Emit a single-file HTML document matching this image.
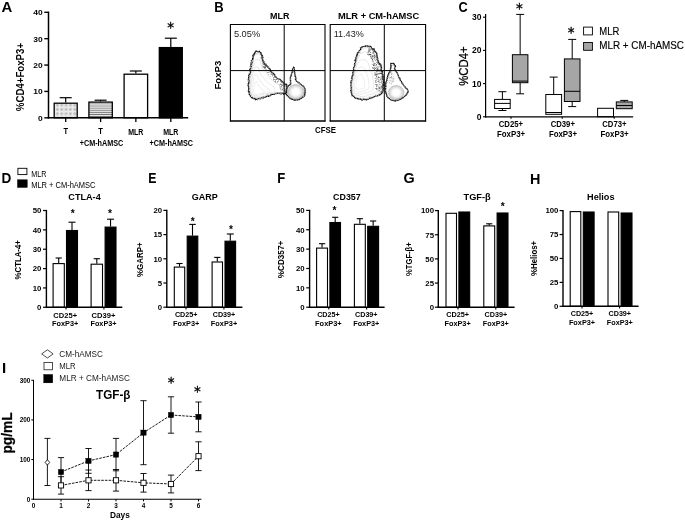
<!DOCTYPE html>
<html lang="en"><head><meta charset="utf-8"><title>Figure</title>
<style>
html,body{margin:0;padding:0;background:#fff;}
body{width:685px;height:522px;overflow:hidden;}
svg{display:block;filter:blur(0.38px);font-family:'Liberation Sans', Arial, sans-serif;}
</style></head><body>
<svg width="685" height="522" viewBox="0 0 685 522">
<rect width="685" height="522" fill="#fff"/>
<g id="pA">
<text x="1.50" y="12.40" font-size="15.2" font-weight="bold" textLength="10.80" lengthAdjust="spacingAndGlyphs">A</text>
<defs><pattern id="dots" width="1.3" height="1.3" patternUnits="userSpaceOnUse"><rect width="1.3" height="1.3" fill="#ececec"/><rect width="0.65" height="0.65" fill="#a8a8a8"/></pattern><pattern id="hl" width="4" height="2.1" patternUnits="userSpaceOnUse"><rect width="4" height="2.1" fill="#f0f0f0"/><rect width="4" height="0.8" y="0.6" fill="#6a6a6a"/></pattern></defs>
<line x1="65.70" y1="97.70" x2="65.70" y2="102.60" stroke="#000" stroke-width="1.2"/>
<line x1="59.70" y1="97.70" x2="71.70" y2="97.70" stroke="#000" stroke-width="1.2"/>
<rect x="54.20" y="103.20" width="23.00" height="14.60" fill="url(#dots)" stroke="#000" stroke-width="1.3"/>
<line x1="65.70" y1="117.80" x2="65.70" y2="122.10" stroke="#000" stroke-width="1.3"/>
<line x1="100.60" y1="100.20" x2="100.60" y2="101.50" stroke="#000" stroke-width="1.2"/>
<line x1="94.60" y1="100.20" x2="106.60" y2="100.20" stroke="#000" stroke-width="1.2"/>
<rect x="88.90" y="102.10" width="23.40" height="15.70" fill="url(#hl)" stroke="#000" stroke-width="1.3"/>
<line x1="100.60" y1="117.80" x2="100.60" y2="122.10" stroke="#000" stroke-width="1.3"/>
<line x1="135.85" y1="71.00" x2="135.85" y2="73.60" stroke="#000" stroke-width="1.2"/>
<line x1="129.85" y1="71.00" x2="141.85" y2="71.00" stroke="#000" stroke-width="1.2"/>
<rect x="124.10" y="74.20" width="23.50" height="43.60" fill="#fff" stroke="#000" stroke-width="1.3"/>
<line x1="135.85" y1="117.80" x2="135.85" y2="122.10" stroke="#000" stroke-width="1.3"/>
<line x1="170.80" y1="38.20" x2="170.80" y2="47.00" stroke="#000" stroke-width="1.2"/>
<line x1="164.80" y1="38.20" x2="176.80" y2="38.20" stroke="#000" stroke-width="1.2"/>
<rect x="159.30" y="47.60" width="23.00" height="70.20" fill="#000" stroke="#000" stroke-width="1.3"/>
<line x1="170.80" y1="117.80" x2="170.80" y2="122.10" stroke="#000" stroke-width="1.3"/>
<line x1="48.50" y1="11.60" x2="48.50" y2="118.55" stroke="#000" stroke-width="1.5"/>
<line x1="47.75" y1="117.80" x2="188.20" y2="117.80" stroke="#000" stroke-width="1.5"/>
<line x1="44.30" y1="12.30" x2="48.50" y2="12.30" stroke="#000" stroke-width="1.4"/>
<text x="42.70" y="15.15" font-size="8" font-weight="bold" text-anchor="end" textLength="9.40" lengthAdjust="spacingAndGlyphs">40</text>
<line x1="44.30" y1="38.67" x2="48.50" y2="38.67" stroke="#000" stroke-width="1.4"/>
<text x="42.70" y="41.52" font-size="8" font-weight="bold" text-anchor="end" textLength="9.40" lengthAdjust="spacingAndGlyphs">30</text>
<line x1="44.30" y1="65.05" x2="48.50" y2="65.05" stroke="#000" stroke-width="1.4"/>
<text x="42.70" y="67.90" font-size="8" font-weight="bold" text-anchor="end" textLength="9.40" lengthAdjust="spacingAndGlyphs">20</text>
<line x1="44.30" y1="91.42" x2="48.50" y2="91.42" stroke="#000" stroke-width="1.4"/>
<text x="42.70" y="94.27" font-size="8" font-weight="bold" text-anchor="end" textLength="9.40" lengthAdjust="spacingAndGlyphs">10</text>
<line x1="44.30" y1="117.80" x2="48.50" y2="117.80" stroke="#000" stroke-width="1.4"/>
<text x="42.70" y="120.65" font-size="8" font-weight="bold" text-anchor="end" textLength="4.70" lengthAdjust="spacingAndGlyphs">0</text>
<text x="24.00" y="111.20" font-size="10.7" font-weight="bold" textLength="68.30" lengthAdjust="spacingAndGlyphs" transform="rotate(-90 24.00 111.20)">%CD4+FoxP3+</text>
<text x="65.70" y="134.30" font-size="8.5" font-weight="bold" text-anchor="middle" textLength="4.60" lengthAdjust="spacingAndGlyphs">T</text>
<text x="100.60" y="134.30" font-size="8.5" font-weight="bold" text-anchor="middle" textLength="4.60" lengthAdjust="spacingAndGlyphs">T</text>
<text x="135.80" y="134.50" font-size="8.5" font-weight="bold" text-anchor="middle" textLength="15.20" lengthAdjust="spacingAndGlyphs">MLR</text>
<text x="170.80" y="134.50" font-size="8.5" font-weight="bold" text-anchor="middle" textLength="15.20" lengthAdjust="spacingAndGlyphs">MLR</text>
<text x="101.50" y="145.80" font-size="8.5" font-weight="bold" text-anchor="middle" textLength="43.60" lengthAdjust="spacingAndGlyphs">+CM-hAMSC</text>
<text x="171.30" y="145.80" font-size="8.5" font-weight="bold" text-anchor="middle" textLength="43.60" lengthAdjust="spacingAndGlyphs">+CM-hAMSC</text>
<text x="170.60" y="31.84" font-size="13.6" text-anchor="middle" font-family="'DejaVu Sans', 'Liberation Sans', sans-serif" stroke="#000" stroke-width="0.3">*</text>
</g>
<g id="pB">
<text x="214.20" y="12.40" font-size="15.2" font-weight="bold" textLength="9.40" lengthAdjust="spacingAndGlyphs">B</text>
<text x="279.80" y="18.90" font-size="8.9" font-weight="bold" text-anchor="middle" textLength="19.40" lengthAdjust="spacingAndGlyphs">MLR</text>
<text x="378.60" y="18.90" font-size="9.1" font-weight="bold" text-anchor="middle" textLength="81.40" lengthAdjust="spacingAndGlyphs">MLR + CM-hAMSC</text>
<text x="220.60" y="89.50" font-size="9.6" font-weight="bold" textLength="28.80" lengthAdjust="spacingAndGlyphs" transform="rotate(-90 220.60 89.50)">FoxP3</text>
<text x="325.50" y="132.80" font-size="8.6" font-weight="bold" text-anchor="middle" textLength="21.00" lengthAdjust="spacingAndGlyphs">CFSE</text>
<path d="M255.7 51.3 L256.9 51.1 L257.5 51.4 L257.6 51.6 L258.4 51.6 L259.3 51.3 L260.4 52.7 L260.5 52.6 L261.6 54.6 L261.8 55.1 L262.6 55.9 L262.9 57.7 L262.4 59.0 L263.2 61.6 L263.6 62.7 L265.0 63.6 L265.7 64.1 L265.9 65.1 L267.7 66.3 L268.1 67.5 L269.2 68.3 L270.6 70.2 L270.7 71.3 L272.1 73.0 L273.4 73.4 L274.7 74.4 L275.0 76.4 L275.8 77.0 L276.8 78.2 L279.0 79.0 L280.3 79.5 L281.1 80.7 L282.0 81.3 L283.4 82.7 L283.9 83.0 L284.1 83.7 L285.7 84.6 L286.6 84.1 L286.5 85.5 L286.3 86.4 L286.7 87.4 L286.5 89.2 L286.6 89.4 L286.7 91.7 L286.0 92.2 L286.1 93.6 L285.9 93.9 L284.3 93.5 L283.5 94.2 L283.2 93.2 L280.7 93.1 L279.5 93.4 L278.5 93.1 L276.3 93.4 L275.3 93.8 L274.7 94.2 L272.6 94.5 L271.3 94.2 L270.1 95.8 L268.6 96.4 L266.4 96.4 L264.5 97.4 L263.0 97.1 L261.7 97.8 L260.4 98.0 L258.5 98.5 L257.1 99.0 L255.6 99.8 L255.1 98.6 L253.3 98.6 L252.3 97.7 L251.9 98.1 L250.6 96.4 L249.3 94.6 L249.2 93.4 L249.4 91.6 L248.2 91.8 L248.7 89.8 L248.6 88.7 L248.5 89.1 L249.0 87.6 L248.1 86.1 L248.0 85.6 L248.5 84.6 L248.2 82.7 L249.0 82.6 L249.1 81.2 L249.2 80.0 L248.5 78.5 L248.8 76.6 L248.6 75.8 L249.1 75.2 L250.2 73.6 L250.4 73.2 L250.6 71.1 L249.8 69.8 L250.0 68.5 L250.8 68.3 L251.3 66.6 L251.3 65.9 L250.7 64.6 L252.1 63.6 L252.1 62.1 L251.5 61.5 L252.0 60.5 L253.1 58.9 L252.5 58.7 L253.2 56.8 L252.8 55.2 L254.3 54.9 L253.7 54.0 L255.3 53.0 L255.0 52.3Z" fill="#fff" stroke="#000" stroke-width="1.15" stroke-dasharray="1.3 0.45" stroke-linejoin="round"/>
<path d="M255.3 51.0 L257.5 51.9 L257.5 52.3 L258.1 52.2 L259.6 51.2 L259.4 51.5 L260.1 52.4 L260.6 52.9 L260.8 54.7 L261.4 55.2 L262.1 57.3 L262.2 58.7 L262.9 59.6 L263.5 60.3 L264.0 62.0 L264.0 64.3 L265.1 64.7 L266.9 65.6 L267.1 66.4 L268.4 67.9 L268.6 68.7 L269.7 69.5 L271.6 71.2 L272.2 72.9 L273.8 73.6 L274.3 74.9 L275.2 76.4 L276.2 77.1 L277.4 78.8 L278.9 79.5 L280.5 79.3 L281.0 81.3 L282.5 80.7 L282.3 82.0 L283.2 82.3 L284.0 83.7 L286.0 84.6 L285.6 84.8 L287.0 84.7 L287.7 87.3 L286.6 88.7 L286.9 88.8 L287.9 90.3 L286.3 91.1 L286.6 92.0 L285.5 92.7 L285.8 92.5 L284.7 93.5 L282.8 93.4 L282.7 93.7 L280.4 94.4 L280.3 94.3 L277.7 93.0 L276.2 94.0 L275.1 93.0 L273.9 94.7 L273.1 93.9 L270.4 95.5 L269.7 95.8 L267.3 95.2 L266.9 96.5 L264.3 97.9 L263.8 98.3 L261.4 98.9 L259.9 99.3 L259.1 98.7 L257.7 100.0 L255.8 98.6 L254.9 98.7 L253.0 98.2 L251.7 97.7 L251.1 97.1 L251.1 96.1 L249.9 94.6 L249.1 92.9 L248.5 91.2 L249.2 91.3 L248.1 90.3 L249.3 88.7 L249.0 88.3 L248.4 87.9 L248.2 86.3 L248.8 86.1 L248.2 84.7 L248.8 83.3 L248.4 81.7 L247.9 80.1 L248.0 80.1 L248.5 77.9 L248.3 77.9 L249.9 76.4 L249.0 74.4 L249.2 73.6 L249.2 72.4 L249.6 72.1 L251.0 70.2 L250.0 69.8 L250.3 67.5 L250.0 66.4 L251.0 65.5 L250.8 64.4 L250.7 62.8 L251.0 62.0 L251.2 60.3 L251.9 59.6 L252.6 59.1 L253.1 58.4 L253.2 57.9 L253.1 55.4 L254.6 53.9 L254.6 53.8 L253.9 53.4 L255.9 52.4Z" fill="none" stroke="#222" stroke-width="0.7" stroke-dasharray="2.2 1.0" stroke-linejoin="round"/>
<path d="M256.7 54.0 L256.7 53.5 L257.8 53.8 L258.9 53.8 L259.4 54.0 L260.3 53.9 L260.4 53.5 L260.8 54.6 L261.1 56.1 L261.9 57.0 L262.2 58.3 L262.5 58.8 L263.3 61.2 L263.5 62.5 L264.3 63.2 L265.1 64.6 L265.0 65.5 L266.7 66.1 L267.5 67.9 L268.1 68.1 L268.9 69.6 L270.1 70.8 L270.8 71.3 L271.1 72.7 L272.8 74.0 L273.5 74.7 L273.9 76.1 L275.7 77.6 L276.8 78.0 L277.7 79.0 L278.8 79.4 L280.3 80.3 L281.4 81.9 L281.2 82.0 L283.1 83.3 L283.4 83.0 L283.9 84.4 L284.5 84.4 L284.9 85.1 L286.2 85.7 L286.1 87.6 L286.2 89.5 L285.2 91.1 L285.2 91.1 L284.1 92.4 L284.1 92.5 L283.0 92.7 L282.3 93.4 L280.8 93.3 L280.6 92.4 L279.4 93.0 L278.0 92.5 L276.1 92.7 L275.4 93.1 L273.3 93.1 L271.8 93.0 L270.1 94.4 L269.0 95.1 L267.5 94.9 L266.4 95.3 L264.9 96.8 L264.1 97.2 L262.4 97.8 L261.4 97.7 L259.7 97.4 L258.3 98.1 L257.0 98.4 L255.2 97.6 L254.8 97.3 L253.1 97.1 L252.0 96.8 L252.0 95.3 L250.9 94.2 L250.3 92.9 L249.5 91.1 L249.2 90.3 L249.5 88.6 L249.9 88.6 L249.3 86.6 L249.0 85.6 L249.2 84.6 L249.1 83.7 L249.5 83.5 L249.8 81.8 L249.5 80.9 L249.5 79.6 L249.3 78.4 L250.5 77.1 L250.1 76.6 L250.7 75.0 L250.2 73.9 L250.5 73.0 L251.4 72.4 L251.5 70.3 L250.7 70.0 L251.9 68.6 L251.7 66.9 L251.7 67.0 L252.5 65.8 L252.8 64.1 L252.0 62.9 L252.7 62.6 L253.4 61.6 L253.3 60.7 L253.5 58.8 L253.4 57.6 L254.0 56.6 L254.9 55.0 L254.8 54.2 L255.9 54.2Z" fill="none" stroke="#888" stroke-width="0.55" stroke-dasharray="0.9 0.7"/>
<path d="M255.8 59.6 L256.7 59.8 L257.2 59.5 L258.0 59.3 L258.4 59.7 L259.5 60.0 L260.0 60.2 L260.0 60.6 L260.8 61.7 L260.5 62.2 L260.9 63.8 L261.1 64.6 L261.7 66.3 L261.9 67.0 L262.5 68.4 L263.3 69.2 L264.0 70.3 L264.5 70.6 L265.6 71.4 L266.2 72.1 L266.5 73.5 L267.3 74.6 L268.2 75.1 L268.7 76.3 L269.8 77.7 L270.3 78.2 L271.2 79.5 L272.0 79.7 L272.9 80.7 L274.5 81.8 L275.3 82.5 L276.3 82.7 L276.6 83.8 L277.8 83.7 L278.5 84.5 L279.0 85.0 L279.5 85.2 L280.1 85.9 L281.0 86.4 L281.2 87.4 L280.9 89.0 L281.2 90.2 L280.5 91.4 L280.4 92.5 L279.9 92.7 L279.9 92.8 L278.9 93.5 L278.4 93.0 L277.0 93.0 L276.5 93.0 L275.3 93.4 L273.9 93.0 L273.2 93.3 L271.5 93.5 L270.4 93.4 L269.0 94.0 L268.4 94.3 L267.3 94.4 L265.6 95.2 L264.9 96.0 L263.3 96.0 L262.1 96.6 L261.3 96.8 L260.0 97.5 L258.8 97.8 L257.5 97.7 L256.2 97.7 L255.4 97.4 L254.0 97.6 L253.1 96.7 L252.1 96.4 L251.7 95.9 L251.5 94.9 L250.6 93.1 L250.2 92.1 L250.4 90.6 L249.9 89.1 L250.1 87.6 L250.2 86.0 L250.3 83.7 L250.5 82.9 L250.3 82.0 L250.6 80.9 L250.4 80.0 L250.4 79.5 L250.9 78.2 L250.9 77.7 L251.1 76.2 L251.5 75.6 L251.8 74.2 L251.6 73.8 L252.0 72.9 L251.7 71.5 L251.9 70.6 L252.7 69.9 L252.8 68.9 L253.1 67.2 L253.1 65.8 L253.9 63.9 L254.0 63.0 L254.1 61.9 L254.4 61.0 L254.9 60.7 L255.6 60.0Z" fill="none" stroke="#c4c4c4" stroke-width="0.45"/>
<path d="M255.2 67.2 L256.1 67.0 L256.3 66.9 L257.1 67.2 L257.1 66.9 L257.9 67.3 L258.5 67.3 L258.4 68.2 L258.8 68.5 L258.9 69.7 L259.1 70.3 L259.4 71.1 L260.0 72.4 L260.1 72.9 L260.7 73.7 L260.7 75.0 L261.5 75.5 L262.0 76.0 L262.6 76.1 L262.9 77.0 L263.9 78.0 L264.0 78.6 L264.8 79.3 L265.2 79.9 L266.1 81.2 L266.5 81.6 L267.6 82.6 L267.9 82.7 L269.1 83.9 L269.5 83.8 L270.6 84.5 L271.2 85.2 L271.8 85.3 L272.5 85.9 L272.8 86.7 L273.6 86.6 L273.6 87.1 L274.3 87.4 L274.3 87.9 L274.9 89.0 L274.5 89.7 L275.0 90.5 L274.9 91.4 L274.5 92.4 L274.3 92.7 L273.7 93.1 L273.2 93.3 L272.7 93.2 L271.6 93.3 L271.1 93.0 L270.5 93.3 L269.4 92.9 L268.5 92.9 L267.4 93.2 L266.4 93.4 L265.8 93.3 L265.0 93.6 L264.1 94.5 L263.0 94.4 L262.1 95.0 L261.5 95.1 L260.5 96.1 L259.5 96.3 L258.2 96.7 L257.5 96.8 L256.9 96.4 L255.9 97.0 L254.5 96.5 L254.3 96.2 L253.6 95.9 L252.9 95.3 L252.2 95.2 L251.6 94.0 L251.4 93.1 L250.9 92.0 L250.8 91.5 L251.0 90.2 L250.6 88.9 L250.6 87.4 L251.0 85.9 L251.3 84.6 L251.3 83.3 L251.2 81.9 L251.8 80.0 L252.1 78.5 L252.6 77.2 L252.4 75.9 L252.7 74.1 L253.2 72.7 L253.5 71.6 L253.7 71.0 L253.9 69.8 L254.0 68.6 L254.1 68.1 L254.8 67.8 L255.1 67.8Z" fill="none" stroke="#cfcfcf" stroke-width="0.45"/>
<path d="M255.2 74.5 L255.9 74.3 L255.8 74.5 L256.2 74.5 L256.6 74.7 L257.2 74.5 L257.6 74.9 L257.5 75.5 L257.7 75.4 L257.7 76.3 L258.4 77.0 L258.2 77.3 L258.2 78.2 L258.8 78.7 L259.1 79.4 L259.7 80.1 L259.5 80.7 L259.8 80.8 L260.5 80.9 L260.6 81.8 L261.0 82.1 L262.0 82.4 L261.9 83.3 L262.5 83.9 L263.2 84.1 L263.3 84.7 L263.6 85.6 L264.6 86.0 L264.6 86.5 L265.6 86.6 L266.1 87.0 L266.2 87.1 L266.7 87.4 L267.2 88.2 L267.9 88.6 L268.3 88.4 L268.5 88.8 L269.0 89.1 L268.8 89.5 L269.4 89.8 L269.4 90.3 L269.0 91.2 L269.2 92.4 L269.1 92.4 L269.0 92.7 L268.2 93.3 L268.2 93.2 L267.8 93.5 L267.1 93.4 L266.7 93.3 L265.9 93.2 L265.4 92.9 L264.5 93.2 L263.8 93.4 L263.2 92.9 L262.5 93.7 L262.0 93.4 L261.1 93.6 L260.9 94.3 L260.3 94.6 L259.2 94.7 L258.7 95.1 L258.4 95.4 L257.2 95.6 L257.2 95.8 L255.9 95.4 L255.3 95.3 L255.2 95.8 L254.5 95.6 L254.0 95.0 L253.2 94.5 L253.3 94.1 L252.7 93.7 L252.2 93.0 L252.2 92.6 L252.2 91.5 L252.5 90.8 L252.4 90.0 L251.8 88.9 L252.2 88.2 L252.2 87.1 L252.4 85.7 L252.8 84.6 L253.0 83.6 L252.6 82.6 L253.3 82.1 L253.0 80.7 L253.5 80.0 L253.5 78.8 L253.8 78.1 L253.9 77.4 L254.1 76.2 L254.6 75.9 L254.4 75.6 L254.6 75.3 L255.3 75.1Z" fill="none" stroke="#d6d6d6" stroke-width="0.45"/>
<path d="M255.9 81.8 L256.0 81.7 L256.5 81.5 L256.7 81.5 L256.5 81.6 L257.2 81.9 L257.0 82.2 L257.0 82.1 L257.3 82.6 L257.5 82.9 L257.3 83.0 L257.3 83.8 L257.8 84.1 L257.6 84.3 L258.2 84.8 L258.0 85.0 L258.7 85.2 L258.5 85.4 L259.1 86.0 L258.9 85.8 L259.2 86.3 L259.7 86.5 L259.8 86.9 L260.5 87.6 L260.2 88.1 L260.4 88.0 L261.3 88.6 L261.5 88.6 L261.4 89.0 L261.7 89.0 L262.2 89.1 L262.5 89.8 L263.0 89.8 L263.2 90.0 L263.1 90.3 L263.5 90.5 L264.1 90.5 L264.0 90.8 L264.1 90.7 L264.4 91.5 L264.4 91.7 L264.5 92.2 L264.3 92.5 L264.0 92.9 L263.7 92.9 L264.0 93.2 L263.7 93.0 L263.3 93.1 L263.1 93.1 L262.8 93.4 L262.1 93.2 L262.1 93.0 L261.5 93.4 L260.8 93.2 L260.5 93.4 L260.6 93.3 L259.6 93.5 L259.5 93.8 L259.1 93.9 L258.9 94.0 L258.2 94.4 L257.7 94.4 L257.4 94.6 L256.8 94.8 L256.6 94.3 L256.1 94.6 L255.6 94.6 L255.5 94.8 L255.1 94.4 L254.7 94.5 L254.9 94.2 L254.2 94.1 L254.1 93.4 L253.8 93.4 L254.2 92.8 L253.8 92.3 L253.6 92.0 L253.7 91.3 L254.0 90.8 L253.8 89.8 L253.9 89.1 L254.2 88.6 L254.3 87.9 L254.1 87.3 L254.2 86.6 L254.0 86.3 L254.4 85.4 L254.5 84.9 L254.7 84.4 L255.0 83.7 L255.3 83.6 L254.8 83.1 L255.5 82.8 L255.1 82.5 L255.6 81.8 L255.3 82.3Z" fill="none" stroke="#dedede" stroke-width="0.45"/>
<path d="M290.6 81.2 L290.1 79.7 L290.2 78.9 L290.5 77.0 L291.3 76.2 L291.0 74.9 L291.8 73.5 L292.2 72.2 L292.6 70.8 L292.4 69.4 L293.0 68.4 L293.2 68.0 L293.6 67.1 L293.6 67.1 L294.1 67.4 L294.3 68.2 L294.4 69.4 L294.5 71.0 L294.1 72.2 L294.7 73.3 L295.0 74.9 L295.0 75.9 L295.7 76.8 L295.7 78.5 L295.4 79.4 L296.3 80.6 L296.5 81.5 L297.3 81.8 L298.5 82.1 L299.3 83.2 L299.9 84.0 L300.7 84.2 L301.6 85.0 L301.9 85.2 L302.7 85.8 L303.6 86.2 L304.1 86.9 L304.2 87.4 L304.6 88.7 L305.0 89.2 L304.9 89.5 L305.0 90.5 L305.4 91.4 L304.8 92.1 L305.5 92.6 L304.6 93.2 L304.4 93.8 L304.9 94.8 L304.3 95.7 L304.1 96.2 L303.4 96.8 L303.0 97.3 L302.4 97.5 L301.7 98.2 L301.1 98.3 L299.9 98.6 L299.7 99.7 L298.8 99.5 L298.1 100.0 L297.1 99.7 L296.0 99.9 L295.2 99.9 L294.7 100.3 L293.4 99.8 L292.5 99.2 L292.5 99.4 L291.8 99.0 L290.3 98.6 L290.1 98.6 L289.8 97.7 L288.7 96.9 L288.4 96.4 L287.5 95.6 L287.0 95.6 L286.7 95.2 L286.4 94.4 L286.2 92.9 L286.6 92.4 L286.6 91.6 L285.9 91.4 L286.6 90.7 L286.8 89.3 L286.9 89.1 L287.0 88.6 L287.2 88.0 L288.0 86.5 L287.9 86.5 L289.1 85.4 L289.2 85.5 L289.7 85.1 L290.5 84.0 L290.6 84.1 L290.8 84.0 L290.4 83.9 L290.5 83.3 L290.7 82.4Z" fill="#fff" stroke="#000" stroke-width="1.15" stroke-dasharray="1.3 0.45" stroke-linejoin="round"/>
<path d="M290.4 81.7 L290.9 80.3 L290.5 78.4 L290.1 77.8 L291.1 76.3 L291.1 74.7 L292.2 73.6 L292.1 71.6 L292.3 70.9 L292.5 69.4 L293.1 68.7 L293.6 67.4 L293.0 67.1 L293.8 67.5 L294.4 68.3 L293.8 68.9 L294.8 69.9 L294.6 70.4 L295.0 72.3 L294.9 73.7 L294.7 74.1 L295.2 76.3 L295.0 77.5 L296.1 78.0 L296.0 79.5 L296.1 79.9 L296.3 81.4 L297.6 81.8 L297.6 82.9 L299.4 82.8 L300.1 84.2 L301.3 84.3 L301.5 84.9 L301.8 84.9 L302.4 86.0 L303.2 86.4 L303.7 87.0 L303.8 87.1 L305.1 88.1 L304.4 89.1 L305.4 89.3 L305.3 90.2 L305.3 90.6 L304.7 92.4 L305.6 92.6 L305.1 93.1 L305.1 94.0 L305.0 95.0 L304.6 95.9 L303.5 95.5 L303.0 96.3 L302.3 96.7 L302.3 98.2 L301.5 98.7 L301.3 98.2 L300.3 98.9 L299.0 99.8 L298.4 99.7 L298.0 100.3 L297.2 99.8 L296.2 99.6 L295.9 100.5 L294.2 99.4 L293.5 99.6 L293.4 100.0 L292.6 98.8 L291.7 99.3 L290.9 99.2 L289.5 97.8 L289.7 98.2 L289.0 97.0 L288.4 97.0 L287.4 95.9 L287.1 95.0 L287.0 94.4 L286.5 93.7 L286.8 92.8 L286.7 92.3 L285.8 92.3 L286.0 91.6 L286.8 90.8 L286.2 89.6 L286.3 89.4 L287.4 88.4 L287.4 87.4 L288.2 86.9 L288.4 85.9 L288.5 85.3 L289.6 85.3 L289.6 85.2 L290.2 84.3 L290.4 83.8 L291.2 83.6 L290.4 83.6 L290.5 83.6 L290.1 83.0Z" fill="none" stroke="#222" stroke-width="0.7" stroke-dasharray="2.2 1.0" stroke-linejoin="round"/>
<path d="M290.3 82.2 L290.9 80.2 L290.7 79.0 L290.6 77.6 L291.0 77.3 L292.1 75.9 L291.4 73.8 L292.7 72.3 L292.8 71.3 L293.4 69.7 L293.5 69.2 L293.0 68.2 L294.1 68.6 L293.6 68.6 L294.7 68.7 L294.4 69.2 L294.1 70.9 L294.8 71.3 L294.1 72.4 L294.9 74.1 L294.7 75.0 L295.3 76.9 L295.7 77.9 L295.2 78.4 L296.1 79.8 L296.4 80.2 L296.9 81.3 L297.6 82.6 L297.9 82.3 L299.4 83.4 L300.2 83.7 L300.1 84.9 L301.0 84.6 L301.6 85.5 L301.7 85.9 L302.8 86.5 L302.8 87.3 L304.1 88.1 L303.8 88.5 L304.1 89.2 L303.9 90.0 L305.1 90.2 L304.7 91.0 L304.7 91.1 L305.2 92.0 L304.1 92.5 L304.0 94.1 L303.4 93.9 L303.9 94.6 L302.7 95.7 L302.9 96.2 L302.6 96.2 L302.2 97.4 L300.6 97.2 L300.6 98.0 L299.6 97.9 L299.1 98.2 L298.6 99.3 L297.3 99.2 L297.2 98.8 L296.6 99.8 L295.3 99.2 L295.0 99.2 L293.7 99.6 L293.4 98.7 L292.1 98.5 L291.6 98.9 L291.4 98.5 L290.7 98.0 L289.2 97.2 L289.8 97.2 L288.4 96.0 L288.4 95.4 L287.9 94.4 L287.5 94.3 L286.7 93.3 L287.7 93.3 L287.5 92.5 L287.3 92.1 L287.4 90.4 L287.1 90.0 L287.3 89.3 L287.3 89.4 L287.7 87.9 L287.9 87.5 L288.8 86.8 L288.5 86.6 L288.8 86.0 L290.3 85.4 L290.1 84.9 L290.8 84.2 L290.6 83.8 L290.9 83.9 L290.8 83.6 L290.5 83.5 L291.3 82.9Z" fill="none" stroke="#888" stroke-width="0.55" stroke-dasharray="0.9 0.7"/>
<path d="M303.5 92.9 L303.2 93.6 L303.1 94.2 L302.9 94.8 L302.4 95.3 L301.9 96.1 L301.5 96.6 L300.8 97.0 L300.6 97.4 L299.8 97.9 L299.0 98.5 L298.3 98.7 L297.5 98.5 L297.1 98.8 L296.0 98.9 L295.4 99.1 L294.5 98.7 L294.1 98.9 L293.0 98.4 L292.4 98.4 L291.9 98.1 L291.3 97.5 L290.7 97.2 L290.2 96.6 L289.7 96.2 L289.3 95.3 L289.0 94.6 L288.6 94.3 L288.3 93.8 L288.1 92.8 L288.2 92.3 L288.1 91.4 L288.1 90.7 L288.4 90.0 L288.4 89.4 L288.7 88.7 L289.3 88.3 L289.6 87.5 L289.9 86.9 L290.4 86.5 L291.2 85.9 L292.0 85.6 L292.7 85.5 L293.4 84.9 L293.9 85.1 L294.4 84.5 L295.5 84.7 L296.4 84.8 L297.0 85.0 L297.7 84.9 L298.5 85.0 L299.0 85.4 L299.7 85.9 L300.5 86.1 L300.8 86.4 L301.5 87.0 L302.1 87.7 L302.7 88.1 L302.8 88.8 L303.4 89.3 L303.4 90.2 L303.3 90.7 L303.8 91.6 L303.6 92.0Z" fill="none" stroke="#8a8a8a" stroke-width="0.5"/>
<path d="M303.0 92.8 L302.8 93.6 L302.6 93.9 L302.0 94.5 L301.9 95.1 L301.3 95.5 L301.1 96.2 L300.5 96.9 L300.1 96.8 L299.4 97.5 L298.7 97.8 L297.9 97.8 L297.7 98.1 L296.9 98.1 L296.1 98.3 L295.3 98.4 L294.8 98.5 L294.1 98.0 L293.2 97.7 L292.9 97.5 L292.0 97.2 L291.6 97.2 L291.1 96.8 L290.4 95.9 L290.3 95.6 L289.9 95.1 L289.3 94.5 L289.0 94.2 L289.0 93.3 L288.8 92.7 L288.5 92.3 L288.8 91.7 L288.8 90.9 L288.8 90.0 L289.4 89.8 L289.3 89.2 L289.9 88.4 L290.2 88.2 L290.6 87.7 L290.9 86.9 L291.7 86.5 L292.1 86.4 L292.8 86.1 L293.3 85.5 L294.0 85.4 L295.0 85.3 L295.5 85.1 L296.2 85.3 L296.8 85.2 L297.3 85.7 L298.1 85.6 L298.7 85.8 L299.3 86.0 L300.1 86.5 L300.4 87.1 L300.8 87.3 L301.6 87.7 L301.8 88.6 L302.3 88.9 L302.4 89.7 L302.6 90.4 L302.6 91.1 L302.8 91.3 L302.8 91.9Z" fill="none" stroke="#a5a5a5" stroke-width="0.5"/>
<path d="M302.2 92.5 L302.1 93.3 L301.7 93.6 L301.6 94.1 L301.4 94.6 L300.9 95.3 L300.4 95.9 L300.0 96.2 L299.6 96.4 L299.0 96.6 L298.3 97.2 L297.8 97.4 L297.1 97.5 L296.7 97.6 L296.0 97.4 L295.4 97.5 L294.7 97.7 L294.1 97.4 L293.9 97.4 L293.3 97.2 L292.4 96.7 L291.8 96.6 L291.6 96.0 L291.1 95.8 L290.8 95.1 L290.5 94.7 L290.1 94.1 L289.6 94.0 L289.8 93.3 L289.3 92.4 L289.3 91.9 L289.4 91.5 L289.3 90.9 L289.7 90.2 L290.0 89.9 L290.2 89.2 L290.3 88.9 L290.6 88.1 L291.3 88.0 L291.4 87.3 L292.2 87.2 L292.3 86.7 L292.9 86.7 L293.5 86.5 L294.4 85.9 L295.0 86.0 L295.6 86.1 L296.0 85.8 L296.9 86.0 L297.6 86.2 L298.1 86.5 L298.6 86.5 L298.8 86.9 L299.5 87.1 L300.3 87.3 L300.6 87.7 L301.0 88.5 L301.1 88.8 L301.8 89.4 L301.8 89.7 L301.7 90.3 L302.0 90.8 L302.0 91.3 L302.2 92.2Z" fill="none" stroke="#bcbcbc" stroke-width="0.5"/>
<path d="M301.2 92.4 L301.3 93.0 L301.3 93.5 L300.8 94.2 L300.4 94.5 L300.2 95.0 L300.0 95.4 L299.4 95.7 L299.2 95.9 L298.8 96.4 L298.0 96.4 L297.6 96.5 L296.9 96.7 L296.5 97.0 L296.0 96.8 L295.4 96.9 L294.9 96.7 L294.2 96.6 L294.2 96.8 L293.2 96.6 L293.2 96.3 L292.3 95.9 L292.0 95.5 L291.7 95.0 L291.5 95.0 L291.0 94.7 L290.8 93.9 L290.4 93.4 L290.1 93.2 L290.4 92.5 L290.0 92.1 L290.4 91.8 L290.1 91.2 L290.5 90.7 L290.4 89.9 L290.9 89.5 L290.9 89.2 L291.2 88.9 L291.5 88.1 L292.1 88.0 L292.6 87.8 L293.1 87.6 L293.4 87.1 L293.7 86.8 L294.5 86.6 L295.1 86.5 L295.5 86.9 L295.9 86.4 L296.6 86.5 L297.3 86.5 L297.9 87.1 L298.3 87.1 L298.6 87.4 L299.2 87.6 L299.5 87.9 L300.0 88.5 L300.5 88.6 L300.5 89.1 L300.9 89.5 L300.9 89.8 L301.2 90.5 L301.6 91.2 L301.6 91.8 L301.6 92.1Z" fill="none" stroke="#d0d0d0" stroke-width="0.5"/>
<path d="M300.8 92.2 L300.6 93.0 L300.3 93.4 L300.5 93.7 L300.1 94.0 L299.7 94.7 L299.2 94.7 L299.2 95.1 L298.5 95.5 L298.3 95.7 L297.9 95.9 L297.5 96.0 L296.8 96.0 L296.7 96.3 L295.8 96.5 L295.4 96.1 L295.1 96.1 L294.6 96.2 L294.0 96.1 L293.5 95.9 L293.3 95.5 L292.8 95.2 L292.5 95.3 L292.2 94.9 L292.0 94.3 L291.8 94.2 L291.2 93.9 L291.1 93.2 L291.3 92.9 L291.1 92.3 L291.0 91.8 L290.8 91.5 L290.7 91.2 L290.9 90.6 L291.3 90.2 L291.6 89.9 L291.8 89.5 L292.1 89.3 L292.0 88.9 L292.4 88.6 L293.0 88.3 L293.1 87.9 L293.8 87.9 L294.3 87.3 L294.7 87.2 L295.1 87.5 L295.4 87.5 L296.1 87.2 L296.4 87.3 L297.2 87.5 L297.3 87.3 L297.7 87.9 L298.2 88.0 L298.6 88.3 L299.0 88.3 L299.6 88.8 L299.8 89.3 L300.2 89.2 L300.2 89.7 L300.4 90.5 L300.7 90.5 L300.5 91.3 L300.8 91.5 L300.7 91.8Z" fill="none" stroke="#e0e0e0" stroke-width="0.5"/>
<path d="M300.1 92.3 L300.0 92.8 L299.5 93.0 L299.4 93.6 L299.4 93.5 L299.0 94.0 L298.9 94.4 L298.6 94.6 L298.0 94.9 L297.9 94.9 L297.6 95.5 L297.0 95.2 L296.9 95.4 L296.3 95.6 L295.9 95.7 L295.6 95.9 L295.4 95.4 L294.8 95.7 L294.6 95.6 L294.1 95.3 L293.6 95.0 L293.5 95.1 L293.2 94.7 L292.6 94.5 L292.6 94.1 L292.3 93.7 L292.0 93.4 L291.6 93.0 L291.7 93.0 L291.7 92.3 L291.5 91.9 L291.5 91.4 L291.4 91.4 L291.7 90.8 L291.9 90.4 L291.9 89.9 L292.1 89.7 L292.6 89.5 L292.9 89.1 L293.2 89.0 L293.1 88.6 L293.7 88.7 L293.9 88.5 L294.4 88.4 L294.6 88.1 L295.4 87.9 L295.5 87.7 L295.8 87.8 L296.5 87.9 L296.8 87.9 L297.3 88.4 L297.7 88.2 L298.1 88.7 L298.3 88.5 L298.8 89.1 L298.8 89.0 L299.0 89.5 L299.6 89.9 L299.8 90.0 L299.6 90.6 L299.9 90.8 L300.0 91.2 L299.8 91.6 L299.7 92.1Z" fill="none" stroke="#ececec" stroke-width="0.5"/>
<path d="M275.5 82.2h.6v.6h-.6zM261.1 53.0h.6v.6h-.6zM280.0 83.0h.6v.6h-.6zM264.7 66.0h.6v.6h-.6zM276.1 79.5h.6v.6h-.6zM275.0 79.0h.6v.6h-.6zM261.9 57.2h.6v.6h-.6zM285.0 84.5h.6v.6h-.6zM270.7 73.6h.6v.6h-.6zM274.3 79.2h.6v.6h-.6zM261.7 54.8h.6v.6h-.6zM264.7 67.0h.6v.6h-.6zM266.0 66.1h.6v.6h-.6zM281.6 85.0h.6v.6h-.6zM266.9 72.0h.6v.6h-.6zM262.9 66.1h.6v.6h-.6zM269.6 71.1h.6v.6h-.6zM268.5 65.9h.6v.6h-.6zM274.2 79.3h.6v.6h-.6zM282.7 84.7h.6v.6h-.6zM275.3 76.1h.6v.6h-.6zM260.6 58.5h.6v.6h-.6zM285.8 83.7h.6v.6h-.6zM273.3 79.0h.6v.6h-.6zM267.2 67.0h.6v.6h-.6zM261.1 53.4h.6v.6h-.6zM265.5 66.3h.6v.6h-.6zM279.6 84.3h.6v.6h-.6zM260.7 54.1h.6v.6h-.6zM264.1 61.0h.6v.6h-.6zM261.6 59.6h.6v.6h-.6zM264.6 66.3h.6v.6h-.6zM262.7 63.8h.6v.6h-.6zM268.3 74.4h.6v.6h-.6zM264.5 64.0h.6v.6h-.6zM261.0 55.9h.6v.6h-.6zM261.4 57.6h.6v.6h-.6zM272.5 74.9h.6v.6h-.6zM280.2 84.4h.6v.6h-.6zM261.4 55.3h.6v.6h-.6zM281.3 84.2h.6v.6h-.6zM262.2 56.0h.6v.6h-.6zM285.5 84.2h.6v.6h-.6zM284.1 84.8h.6v.6h-.6zM282.6 80.9h.6v.6h-.6zM273.5 79.5h.6v.6h-.6zM270.6 75.9h.6v.6h-.6zM281.4 86.0h.6v.6h-.6zM276.7 79.5h.6v.6h-.6zM263.8 67.0h.6v.6h-.6zM261.5 54.8h.6v.6h-.6zM280.2 80.8h.6v.6h-.6zM273.5 74.2h.6v.6h-.6zM262.9 61.9h.6v.6h-.6zM264.3 63.6h.6v.6h-.6zM275.1 80.6h.6v.6h-.6zM261.4 54.6h.6v.6h-.6zM274.7 76.6h.6v.6h-.6zM286.5 85.2h.6v.6h-.6zM277.3 81.1h.6v.6h-.6zM274.5 77.4h.6v.6h-.6zM268.5 70.4h.6v.6h-.6zM276.0 76.8h.6v.6h-.6zM283.7 85.0h.6v.6h-.6zM261.2 55.0h.6v.6h-.6zM280.9 82.2h.6v.6h-.6zM281.5 84.4h.6v.6h-.6zM269.8 68.3h.6v.6h-.6zM283.5 82.1h.6v.6h-.6zM261.4 52.3h.6v.6h-.6zM261.7 56.8h.6v.6h-.6zM283.8 82.3h.6v.6h-.6zM265.8 64.5h.6v.6h-.6zM273.8 74.3h.6v.6h-.6zM272.4 75.6h.6v.6h-.6zM271.7 74.1h.6v.6h-.6zM272.7 72.4h.6v.6h-.6zM283.2 85.8h.6v.6h-.6zM273.5 79.6h.6v.6h-.6zM276.3 76.7h.6v.6h-.6zM260.7 57.0h.6v.6h-.6zM282.5 84.8h.6v.6h-.6zM264.6 67.6h.6v.6h-.6zM263.0 64.3h.6v.6h-.6zM265.3 67.5h.6v.6h-.6zM270.0 69.6h.6v.6h-.6zM262.7 60.0h.6v.6h-.6zM270.3 70.7h.6v.6h-.6zM265.5 69.7h.6v.6h-.6zM285.0 83.8h.6v.6h-.6zM265.3 64.8h.6v.6h-.6zM269.5 68.2h.6v.6h-.6zM268.5 72.2h.6v.6h-.6zM264.6 67.8h.6v.6h-.6zM263.6 61.7h.6v.6h-.6zM262.7 60.0h.6v.6h-.6zM262.2 59.1h.6v.6h-.6zM262.3 60.3h.6v.6h-.6zM269.6 70.0h.6v.6h-.6zM260.9 57.6h.6v.6h-.6zM275.8 78.9h.6v.6h-.6zM263.3 63.0h.6v.6h-.6zM263.5 61.7h.6v.6h-.6zM260.5 54.3h.6v.6h-.6zM264.2 68.5h.6v.6h-.6zM264.4 66.8h.6v.6h-.6zM284.5 83.8h.6v.6h-.6zM265.1 67.0h.6v.6h-.6zM266.4 65.1h.6v.6h-.6zM272.7 73.8h.6v.6h-.6zM271.9 70.7h.6v.6h-.6zM270.4 70.3h.6v.6h-.6zM274.6 77.3h.6v.6h-.6zM261.6 59.9h.6v.6h-.6zM261.8 55.5h.6v.6h-.6zM268.9 72.2h.6v.6h-.6zM285.8 84.8h.6v.6h-.6zM277.3 82.0h.6v.6h-.6zM264.2 64.8h.6v.6h-.6zM268.5 72.3h.6v.6h-.6zM282.6 83.7h.6v.6h-.6zM262.2 61.1h.6v.6h-.6zM262.5 65.8h.6v.6h-.6zM283.0 85.8h.6v.6h-.6zM273.2 78.6h.6v.6h-.6zM264.9 68.6h.6v.6h-.6zM273.0 77.3h.6v.6h-.6zM263.1 66.9h.6v.6h-.6zM267.8 70.2h.6v.6h-.6zM261.2 57.5h.6v.6h-.6zM278.1 80.4h.6v.6h-.6zM275.4 81.1h.6v.6h-.6zM273.7 74.0h.6v.6h-.6zM281.1 81.8h.6v.6h-.6zM262.1 62.8h.6v.6h-.6zM264.5 63.7h.6v.6h-.6zM266.7 70.0h.6v.6h-.6zM265.1 65.4h.6v.6h-.6zM278.1 81.0h.6v.6h-.6zM282.0 85.2h.6v.6h-.6zM266.2 63.7h.6v.6h-.6zM267.6 71.9h.6v.6h-.6zM263.6 66.6h.6v.6h-.6zM266.2 69.6h.6v.6h-.6zM274.2 80.9h.6v.6h-.6zM280.7 84.5h.6v.6h-.6zM281.0 85.7h.6v.6h-.6zM263.1 62.6h.6v.6h-.6zM283.4 84.0h.6v.6h-.6zM270.8 74.1h.6v.6h-.6z" fill="#3a3a3a"/>
<path d="M284.6 88.9h.55v.55h-.55zM280.4 87.2h.55v.55h-.55zM282.5 89.0h.55v.55h-.55zM286.8 88.5h.55v.55h-.55zM283.0 86.7h.55v.55h-.55zM279.6 87.6h.55v.55h-.55zM281.5 89.8h.55v.55h-.55zM280.2 89.0h.55v.55h-.55zM284.4 89.5h.55v.55h-.55zM286.2 87.1h.55v.55h-.55zM284.6 90.2h.55v.55h-.55zM284.4 90.4h.55v.55h-.55zM283.5 90.5h.55v.55h-.55zM279.9 88.4h.55v.55h-.55zM283.2 90.6h.55v.55h-.55zM284.5 85.8h.55v.55h-.55zM284.3 86.3h.55v.55h-.55zM283.5 87.2h.55v.55h-.55zM285.1 89.1h.55v.55h-.55zM281.8 87.5h.55v.55h-.55zM280.4 87.2h.55v.55h-.55zM282.9 88.5h.55v.55h-.55zM285.8 90.0h.55v.55h-.55zM281.9 89.1h.55v.55h-.55zM282.2 89.6h.55v.55h-.55zM281.5 89.8h.55v.55h-.55zM282.6 88.2h.55v.55h-.55zM280.7 86.1h.55v.55h-.55zM280.3 88.2h.55v.55h-.55zM285.0 88.2h.55v.55h-.55zM283.7 88.1h.55v.55h-.55zM285.3 86.7h.55v.55h-.55zM286.7 88.1h.55v.55h-.55zM285.1 90.5h.55v.55h-.55zM279.1 85.7h.55v.55h-.55zM285.7 89.8h.55v.55h-.55zM283.8 90.5h.55v.55h-.55zM287.2 88.3h.55v.55h-.55zM284.8 89.7h.55v.55h-.55zM287.2 87.8h.55v.55h-.55z" fill="#666"/>
<path d="M364.9 46.3 L366.3 46.1 L368.7 46.2 L370.0 45.9 L371.1 47.3 L371.6 48.0 L372.2 48.9 L374.0 48.9 L374.5 50.6 L376.0 52.2 L376.5 53.5 L376.8 55.2 L377.2 56.5 L377.1 57.1 L377.8 58.9 L377.7 59.6 L378.6 61.9 L378.7 62.9 L379.3 63.6 L380.1 63.3 L380.3 64.8 L381.5 67.0 L381.7 68.0 L381.2 69.4 L381.7 71.6 L382.6 71.8 L381.9 73.6 L382.4 74.5 L382.8 74.6 L383.2 75.9 L382.3 76.4 L383.2 77.9 L382.4 79.3 L383.8 79.2 L383.6 80.3 L383.4 82.3 L383.9 82.4 L383.5 83.5 L383.8 85.1 L382.7 85.1 L383.1 87.0 L382.7 87.9 L383.8 88.3 L383.1 89.9 L383.1 90.8 L382.7 91.9 L381.9 93.6 L380.2 94.3 L380.1 95.3 L378.7 95.2 L377.5 95.9 L375.0 96.3 L373.8 97.1 L372.8 97.8 L370.1 97.9 L369.6 98.1 L368.0 99.3 L365.7 100.1 L364.1 99.0 L362.9 99.6 L362.0 100.3 L360.2 98.8 L358.4 99.2 L356.7 98.0 L355.4 98.2 L354.9 97.9 L353.8 96.2 L352.1 95.9 L352.3 94.5 L351.7 94.0 L351.2 92.2 L350.7 90.1 L351.3 89.2 L351.1 88.8 L351.4 87.6 L351.2 86.7 L351.1 85.3 L351.3 84.3 L350.7 82.7 L351.3 82.5 L351.0 81.2 L352.0 80.0 L352.6 78.9 L351.5 77.6 L352.6 75.8 L352.2 75.8 L353.5 73.5 L352.8 72.6 L353.0 71.6 L353.7 70.1 L353.4 68.5 L353.4 68.1 L354.6 66.2 L354.3 66.1 L355.3 64.4 L354.6 63.5 L355.6 61.4 L354.8 60.2 L356.0 60.0 L355.5 59.3 L356.7 57.0 L356.7 56.4 L356.5 55.2 L357.6 55.2 L356.9 53.6 L357.5 52.5 L359.0 52.3 L359.2 50.7 L360.5 49.6 L360.8 48.5 L361.3 47.2 L362.8 46.5 L364.0 46.4Z" fill="#fff" stroke="#000" stroke-width="1.15" stroke-dasharray="1.3 0.45" stroke-linejoin="round"/>
<path d="M364.7 46.2 L366.5 45.4 L367.6 45.3 L368.8 46.9 L370.6 46.6 L371.1 47.0 L372.8 48.0 L373.0 49.8 L374.3 51.4 L376.3 52.0 L376.7 53.6 L377.0 54.5 L377.6 57.4 L377.7 57.6 L376.8 59.4 L378.0 60.4 L377.7 62.3 L378.5 62.2 L379.2 63.9 L379.4 64.6 L380.8 65.2 L381.2 66.8 L380.6 67.2 L380.8 69.4 L381.1 71.7 L382.1 71.5 L381.4 73.3 L382.7 74.4 L382.5 75.7 L383.4 75.9 L383.5 76.5 L382.7 78.2 L382.5 79.7 L383.8 80.4 L383.2 80.4 L382.8 81.5 L383.9 82.0 L382.9 83.3 L383.1 84.8 L384.0 84.8 L382.6 86.9 L383.5 87.1 L382.7 87.6 L383.0 89.9 L382.1 89.8 L381.6 92.0 L380.9 92.7 L380.3 94.8 L380.4 94.4 L378.4 94.7 L376.8 96.2 L375.3 95.7 L374.2 97.4 L373.1 96.7 L371.3 98.6 L368.4 98.7 L368.3 99.5 L366.7 99.0 L365.2 99.3 L362.1 99.1 L361.1 99.4 L359.4 99.3 L358.3 98.4 L357.0 98.7 L355.3 98.2 L355.0 98.3 L353.2 96.0 L352.0 95.4 L352.0 94.3 L351.4 92.6 L351.4 91.7 L350.8 90.9 L352.0 90.5 L350.8 87.9 L350.8 86.8 L351.0 86.4 L350.6 84.6 L351.0 84.2 L351.9 83.6 L350.6 82.5 L351.6 80.2 L351.3 80.3 L351.1 79.1 L352.1 77.1 L352.4 76.6 L353.1 75.9 L353.1 74.4 L352.3 73.1 L353.8 71.9 L352.9 70.1 L353.6 69.8 L353.7 67.1 L354.9 66.9 L354.8 65.8 L353.9 64.2 L355.4 63.0 L355.8 61.6 L356.3 61.4 L355.3 59.4 L355.4 57.9 L355.4 57.1 L356.3 56.6 L356.1 55.4 L357.9 55.2 L357.9 53.3 L358.7 52.4 L358.3 51.8 L359.7 50.2 L360.9 49.7 L360.2 47.5 L361.8 47.5 L363.2 46.9 L363.8 46.5Z" fill="none" stroke="#222" stroke-width="0.7" stroke-dasharray="2.2 1.0" stroke-linejoin="round"/>
<path d="M365.2 47.9 L367.0 47.5 L368.2 47.6 L369.1 48.1 L370.2 48.5 L372.0 49.9 L372.0 50.0 L373.7 50.8 L374.1 51.7 L375.3 53.8 L375.3 54.9 L375.7 55.8 L376.8 58.5 L376.9 58.3 L376.7 60.1 L377.7 61.7 L377.1 62.7 L377.7 62.8 L378.2 63.7 L379.0 64.8 L379.9 65.8 L380.0 66.9 L380.4 68.6 L380.5 70.0 L381.0 71.5 L381.3 73.0 L381.2 74.6 L382.1 75.3 L381.5 76.5 L381.5 77.3 L382.3 78.1 L382.4 80.1 L382.1 82.8 L382.3 83.8 L382.6 86.4 L382.6 87.6 L381.8 89.1 L382.4 88.9 L381.9 90.9 L380.6 91.6 L380.1 92.8 L379.0 93.4 L377.6 93.9 L376.9 94.8 L375.4 94.6 L373.5 96.0 L372.1 96.2 L370.5 96.5 L368.8 97.1 L367.4 98.0 L365.9 98.5 L364.8 98.5 L363.5 98.2 L361.2 98.4 L359.9 98.1 L358.4 97.4 L357.5 97.6 L355.9 97.3 L355.1 95.9 L353.5 95.5 L353.6 95.0 L352.4 94.1 L352.7 92.2 L352.3 90.2 L352.5 90.3 L351.5 88.6 L351.6 87.5 L352.3 87.2 L351.5 85.2 L351.4 84.3 L351.6 83.7 L351.5 82.5 L351.9 81.9 L352.7 80.4 L353.0 79.3 L352.5 78.0 L352.4 78.0 L352.7 76.8 L353.2 75.3 L353.2 74.3 L354.4 73.4 L354.4 72.3 L354.2 70.4 L353.9 69.3 L354.2 68.3 L354.4 66.8 L355.5 66.0 L355.4 65.3 L355.8 64.3 L355.8 62.7 L355.5 62.3 L356.0 61.1 L356.5 60.0 L356.8 58.8 L356.9 57.3 L357.1 56.3 L357.8 55.7 L358.4 55.1 L358.5 53.1 L360.2 52.7 L360.9 50.4 L360.8 49.7 L362.0 49.1 L363.4 48.4 L364.7 47.6Z" fill="none" stroke="#888" stroke-width="0.55" stroke-dasharray="0.9 0.7"/>
<path d="M364.1 52.0 L365.5 52.0 L366.2 52.2 L367.2 52.4 L368.5 52.9 L369.0 53.6 L370.3 54.6 L371.2 55.5 L371.6 56.1 L372.0 57.4 L372.9 58.4 L373.0 60.0 L373.7 61.2 L374.1 63.1 L374.1 64.2 L374.6 65.3 L375.2 65.7 L375.3 66.6 L375.8 67.4 L376.2 68.3 L377.1 69.1 L376.7 70.5 L376.9 71.9 L377.8 73.3 L377.7 74.7 L377.8 76.4 L378.4 77.9 L378.1 79.6 L378.7 80.9 L378.9 82.3 L379.0 84.1 L378.7 85.4 L378.5 87.3 L378.5 88.6 L378.2 90.0 L377.4 90.7 L376.9 92.1 L375.8 92.2 L374.4 92.6 L373.7 93.4 L372.2 93.4 L371.2 94.2 L370.0 94.5 L368.7 94.9 L367.4 95.1 L365.9 96.1 L364.7 96.6 L363.4 96.3 L362.1 96.7 L360.8 96.5 L359.1 95.8 L358.0 95.8 L357.2 95.4 L355.5 94.9 L355.2 94.5 L354.0 94.3 L353.8 93.1 L353.2 92.3 L352.6 91.6 L352.2 90.0 L352.5 88.5 L352.3 87.7 L352.4 86.6 L351.9 85.8 L351.9 84.4 L352.1 83.7 L352.2 82.8 L352.3 81.7 L352.7 81.1 L352.4 80.4 L352.7 79.1 L353.3 78.5 L353.6 77.6 L353.5 76.7 L353.9 75.6 L354.2 74.7 L354.1 73.4 L354.5 72.6 L354.6 71.2 L354.4 70.1 L355.1 69.6 L354.7 68.3 L355.3 67.4 L355.1 66.7 L355.8 65.4 L355.8 64.5 L356.1 63.9 L356.6 61.8 L356.9 60.6 L357.8 58.7 L358.6 57.5 L359.3 56.4 L359.4 55.0 L360.1 54.4 L361.0 53.1 L362.1 53.0 L363.2 52.6Z" fill="none" stroke="#c4c4c4" stroke-width="0.45"/>
<path d="M362.3 59.7 L363.1 59.7 L363.6 59.5 L365.1 59.8 L365.4 60.4 L366.4 60.6 L367.1 61.5 L367.2 62.0 L368.4 63.0 L368.3 63.7 L368.7 64.5 L369.2 65.9 L369.6 67.0 L369.8 68.1 L369.7 69.2 L370.5 69.6 L371.0 70.6 L370.9 70.4 L371.6 71.5 L371.5 72.0 L371.8 72.5 L372.3 74.1 L372.7 75.1 L372.8 75.8 L372.8 76.9 L372.9 78.1 L373.2 79.3 L373.1 81.0 L373.6 81.9 L373.4 83.3 L373.3 84.7 L373.8 86.0 L373.2 87.1 L373.3 87.9 L373.2 88.9 L372.3 90.2 L372.2 90.7 L370.9 90.9 L370.5 91.1 L369.8 91.6 L368.6 92.0 L367.2 92.6 L366.8 92.9 L365.6 92.9 L364.4 93.1 L363.4 93.8 L362.5 94.2 L361.9 94.0 L360.8 94.1 L359.5 94.0 L358.6 93.9 L357.3 93.8 L356.4 93.4 L355.7 93.5 L355.2 92.9 L354.4 92.2 L353.9 91.7 L353.6 91.0 L353.2 90.0 L353.1 88.8 L352.7 88.0 L352.8 86.5 L353.1 85.1 L352.9 83.8 L353.2 81.8 L353.7 80.7 L353.8 79.4 L354.2 78.1 L354.5 76.0 L354.8 74.7 L354.6 73.1 L355.4 71.6 L355.5 69.9 L355.9 68.4 L356.5 67.0 L356.7 66.1 L357.0 64.5 L357.9 64.0 L358.3 62.9 L358.7 61.7 L359.3 60.8 L360.0 60.7 L360.5 60.4 L361.1 59.6Z" fill="none" stroke="#cfcfcf" stroke-width="0.45"/>
<path d="M360.9 67.1 L361.7 66.7 L362.3 66.8 L362.9 67.4 L362.8 67.9 L363.5 67.9 L364.5 68.3 L364.3 68.6 L365.2 69.1 L365.2 69.8 L365.6 70.3 L366.3 71.6 L365.9 71.9 L366.3 73.4 L366.6 73.5 L366.9 74.0 L366.9 74.9 L367.2 75.1 L367.6 75.2 L367.4 75.8 L367.6 76.3 L367.7 77.2 L368.3 77.8 L368.3 78.6 L368.2 79.6 L368.9 80.4 L368.5 81.7 L368.7 82.2 L368.9 83.2 L368.7 84.2 L369.3 84.7 L369.3 86.0 L369.0 86.8 L368.7 87.6 L368.8 88.5 L368.2 89.1 L367.4 89.3 L366.9 89.7 L366.8 89.9 L365.8 89.8 L365.6 90.4 L364.7 90.7 L363.7 90.9 L363.2 91.3 L362.6 91.6 L362.0 91.5 L361.2 91.6 L360.2 92.0 L359.5 91.9 L358.9 92.2 L357.9 92.0 L357.3 92.0 L356.6 91.6 L356.2 90.9 L355.7 90.8 L355.3 90.6 L355.0 90.0 L354.7 89.7 L354.7 89.2 L354.6 88.2 L354.4 87.0 L354.0 86.0 L354.0 85.1 L354.2 84.4 L353.9 83.3 L354.3 82.2 L355.0 81.3 L354.9 80.4 L355.4 78.7 L355.3 77.7 L355.3 76.9 L355.7 75.3 L355.9 74.7 L356.1 73.5 L356.5 72.6 L357.0 71.8 L357.2 70.6 L357.6 69.9 L358.0 69.4 L358.6 68.4 L358.9 68.4 L359.0 67.8 L359.9 67.6 L360.5 67.1Z" fill="none" stroke="#d6d6d6" stroke-width="0.45"/>
<path d="M360.1 74.8 L360.1 74.5 L360.6 74.2 L360.7 74.9 L361.6 74.6 L361.7 75.3 L361.6 75.2 L362.4 75.7 L362.8 76.0 L362.8 76.4 L363.1 76.5 L362.8 77.4 L362.9 77.9 L363.0 78.0 L363.0 78.3 L363.8 78.8 L364.0 78.9 L363.7 79.5 L364.3 79.4 L364.0 79.9 L364.1 80.0 L364.2 80.8 L364.3 81.2 L364.2 81.5 L364.5 81.9 L364.5 83.0 L365.0 83.5 L364.7 84.1 L364.9 84.0 L364.9 85.2 L364.8 85.3 L364.6 85.8 L364.5 86.8 L364.7 86.8 L364.5 87.5 L364.2 88.0 L364.0 88.0 L364.1 88.2 L363.4 88.6 L363.4 88.7 L362.7 89.0 L362.0 89.1 L361.9 88.7 L361.1 88.9 L360.8 89.4 L360.6 89.5 L360.0 89.4 L359.3 89.7 L359.3 89.8 L358.5 89.3 L358.1 89.3 L357.6 89.5 L357.6 89.2 L357.4 88.9 L356.6 89.3 L356.6 88.8 L356.1 88.7 L356.1 88.0 L356.1 88.2 L356.2 87.2 L355.6 86.6 L355.8 86.4 L356.1 85.7 L355.7 85.3 L355.6 84.4 L356.2 83.7 L356.4 83.4 L356.3 82.4 L356.7 81.4 L356.2 80.8 L356.7 80.4 L356.8 79.6 L356.9 78.8 L357.4 78.4 L357.3 77.6 L357.2 77.0 L357.9 76.5 L357.7 76.4 L357.8 75.9 L358.3 75.7 L358.8 75.0 L358.6 75.2 L358.8 75.0 L359.4 74.8Z" fill="none" stroke="#dedede" stroke-width="0.45"/>
<path d="M394.0 63.8 L394.4 64.3 L394.5 65.5 L395.6 65.5 L395.6 66.5 L394.4 68.1 L394.5 68.5 L395.3 70.0 L395.4 70.6 L396.6 71.8 L397.4 73.5 L398.1 74.7 L398.6 76.9 L399.1 78.1 L400.3 79.0 L400.3 80.1 L401.0 80.7 L401.5 81.5 L401.5 81.7 L401.7 82.9 L402.8 83.4 L403.0 84.2 L403.8 85.6 L405.0 86.9 L406.1 88.4 L407.4 88.8 L407.8 90.2 L408.0 91.2 L407.7 92.6 L407.2 93.3 L406.4 95.2 L405.1 95.6 L403.9 96.7 L402.6 98.1 L401.3 99.0 L399.7 99.2 L398.7 100.2 L396.7 100.2 L395.3 101.1 L393.4 100.3 L392.2 100.5 L390.4 99.5 L390.0 99.1 L388.7 98.1 L387.1 96.9 L386.5 95.0 L386.5 93.4 L385.6 93.0 L385.6 92.1 L385.3 90.7 L385.2 89.4 L385.5 88.6 L385.3 87.9 L385.7 86.3 L385.3 85.7 L385.4 84.1 L385.5 83.7 L385.7 82.2 L386.3 81.7 L386.7 80.5 L387.1 79.5 L387.4 78.9 L387.5 77.8 L387.6 75.8 L388.5 74.2 L388.8 73.2 L390.0 71.9 L390.1 70.3 L390.0 69.5 L390.8 68.2 L390.7 67.4 L391.1 66.8 L390.9 66.0 L391.0 65.5 L390.9 64.6 L390.8 64.3 L390.9 63.3 L391.6 63.4 L392.5 63.5 L393.2 63.3Z" fill="#fff" stroke="#000" stroke-width="1.15" stroke-dasharray="1.3 0.45" stroke-linejoin="round"/>
<path d="M393.2 63.6 L394.6 64.7 L395.5 65.0 L395.4 65.6 L395.0 66.2 L394.9 67.5 L394.7 68.6 L395.2 70.2 L396.0 70.8 L396.7 72.0 L397.1 73.8 L398.2 74.6 L398.3 76.2 L399.9 77.6 L399.5 78.7 L400.2 80.2 L400.5 80.1 L400.8 81.4 L401.9 81.9 L401.6 83.1 L402.3 83.1 L402.7 83.9 L404.0 85.5 L405.4 87.1 L405.7 88.0 L407.3 89.7 L408.5 90.7 L408.0 90.9 L408.3 92.7 L406.9 93.5 L406.1 94.4 L405.7 95.7 L404.4 97.1 L402.5 97.5 L401.6 99.2 L399.6 99.5 L398.6 100.5 L396.3 100.7 L395.2 101.2 L393.3 100.7 L392.0 100.3 L391.4 100.2 L389.0 98.6 L388.3 97.8 L387.7 96.6 L386.5 94.9 L386.3 93.6 L386.0 92.5 L385.7 92.0 L385.6 90.2 L385.7 89.7 L385.6 88.3 L385.6 87.5 L386.1 86.1 L386.1 85.9 L386.0 84.7 L386.3 83.8 L385.8 82.8 L386.4 80.9 L386.9 80.1 L386.1 79.4 L386.9 79.1 L387.0 77.6 L388.0 75.7 L388.4 74.1 L388.7 73.2 L389.2 71.7 L390.4 70.8 L390.5 69.3 L391.0 68.8 L391.2 68.1 L390.9 67.4 L391.1 65.6 L391.0 64.8 L390.5 64.0 L391.4 63.7 L390.8 64.1 L391.4 63.3 L392.2 62.9 L392.6 63.6Z" fill="none" stroke="#222" stroke-width="0.7" stroke-dasharray="2.2 1.0" stroke-linejoin="round"/>
<path d="M393.4 65.6 L394.9 65.1 L394.9 66.8 L395.0 66.9 L394.7 67.9 L395.3 68.8 L394.4 69.3 L394.7 71.1 L395.6 72.1 L396.6 73.2 L397.5 74.1 L397.8 75.9 L398.8 76.6 L399.0 78.3 L399.7 80.6 L401.2 82.1 L402.2 83.3 L402.9 84.3 L403.1 86.3 L404.5 87.1 L405.1 87.6 L407.1 88.5 L407.4 90.1 L407.7 91.0 L406.8 92.5 L406.1 93.7 L406.4 93.8 L405.1 95.1 L403.3 96.8 L402.4 96.9 L400.7 97.8 L399.8 98.8 L397.8 99.1 L397.2 99.1 L395.5 99.4 L394.1 100.0 L392.2 99.8 L390.7 98.6 L390.5 98.3 L389.5 97.2 L387.4 95.5 L387.0 94.5 L387.2 93.3 L386.3 91.6 L386.7 90.3 L386.2 89.4 L386.5 88.9 L386.7 87.1 L385.9 87.0 L386.3 85.0 L386.1 83.9 L386.0 83.4 L387.0 82.5 L386.6 81.6 L387.2 81.1 L387.6 80.2 L387.6 77.8 L388.2 77.2 L389.3 74.8 L389.7 73.8 L389.5 73.2 L390.0 72.1 L390.9 70.3 L391.1 70.1 L390.9 68.6 L390.9 67.7 L391.4 67.6 L390.9 66.8 L391.6 65.6 L391.6 64.9 L391.7 65.0 L392.5 64.9 L392.2 64.8 L392.7 65.3Z" fill="none" stroke="#888" stroke-width="0.55" stroke-dasharray="0.9 0.7"/>
<path d="M403.7 93.6 L403.7 94.4 L403.3 95.1 L402.9 95.4 L402.9 96.1 L402.4 96.7 L401.7 97.1 L401.4 97.9 L400.6 98.2 L399.9 98.7 L399.4 98.7 L399.0 99.4 L398.0 99.6 L397.4 99.3 L396.5 99.7 L396.1 99.6 L395.1 99.7 L394.2 99.3 L393.4 99.3 L393.2 98.7 L392.2 98.5 L391.8 98.4 L390.9 97.8 L390.8 97.1 L390.0 96.6 L389.9 96.1 L389.2 95.3 L389.3 94.8 L388.7 94.5 L388.6 93.7 L388.8 92.7 L388.7 92.2 L388.7 91.3 L388.7 90.8 L389.0 90.2 L389.4 89.6 L389.6 89.0 L390.2 88.6 L390.7 88.0 L391.1 87.4 L391.8 86.9 L392.5 86.8 L393.1 86.1 L393.4 85.9 L394.6 86.0 L395.3 85.7 L395.6 85.7 L396.8 85.6 L397.1 85.6 L398.0 85.7 L398.6 86.2 L399.6 86.3 L400.2 86.8 L400.5 86.9 L401.1 87.3 L401.8 88.0 L402.3 88.3 L402.5 88.8 L402.9 89.4 L403.2 90.4 L403.7 90.7 L403.5 91.7 L404.0 92.2 L403.9 93.1Z" fill="none" stroke="#8a8a8a" stroke-width="0.5"/>
<path d="M403.1 93.6 L402.9 94.3 L402.9 94.5 L402.4 95.3 L402.1 95.7 L401.9 96.3 L401.2 96.8 L400.9 97.2 L400.3 97.7 L399.9 98.1 L399.2 98.2 L398.7 98.4 L397.8 98.8 L397.1 98.9 L396.4 98.8 L395.8 99.1 L395.0 98.6 L394.3 98.8 L394.0 98.7 L393.5 98.3 L392.8 97.8 L392.2 97.6 L391.6 97.5 L391.3 96.8 L390.8 96.2 L390.1 95.9 L390.0 95.5 L389.7 94.8 L389.3 94.0 L389.6 93.5 L389.4 92.8 L389.6 92.3 L389.6 91.7 L389.6 91.0 L389.5 90.3 L389.9 89.9 L390.1 89.5 L390.9 88.9 L391.0 88.4 L391.3 87.9 L392.0 87.5 L392.7 87.2 L393.1 86.9 L393.8 86.6 L394.4 86.6 L395.1 86.2 L395.7 86.5 L396.5 86.3 L397.3 86.2 L397.8 86.4 L398.7 86.8 L399.3 86.7 L399.8 87.0 L400.5 87.3 L400.7 88.0 L401.2 88.4 L401.9 88.8 L401.9 89.4 L402.3 90.0 L402.5 90.5 L402.9 91.0 L403.2 91.9 L403.0 92.4 L402.9 93.0Z" fill="none" stroke="#a5a5a5" stroke-width="0.5"/>
<path d="M402.4 93.7 L402.1 94.1 L402.0 94.5 L401.7 94.9 L401.5 95.4 L401.2 95.8 L400.6 96.5 L400.1 96.8 L399.7 97.1 L399.5 97.7 L398.8 97.7 L398.3 98.2 L397.9 98.0 L397.1 98.1 L396.3 98.5 L395.9 98.3 L395.5 98.2 L394.5 98.1 L394.4 98.1 L393.8 97.6 L392.8 97.3 L392.7 97.4 L391.9 96.8 L391.6 96.5 L391.4 95.8 L391.1 95.5 L390.5 95.1 L390.4 94.5 L390.3 93.8 L390.1 93.3 L389.8 92.9 L389.8 92.5 L390.2 91.8 L390.3 91.3 L390.6 90.7 L390.4 90.1 L391.1 89.7 L391.2 89.0 L391.4 89.0 L392.2 88.5 L392.4 88.0 L392.9 87.6 L393.6 87.2 L394.1 87.2 L394.5 87.0 L395.4 87.2 L395.8 86.8 L396.5 86.9 L397.1 87.0 L397.7 87.3 L398.4 87.1 L398.7 87.6 L399.5 87.8 L399.7 87.9 L400.4 88.2 L400.7 88.9 L401.2 89.0 L401.7 89.8 L401.6 90.1 L401.8 90.4 L402.4 91.3 L402.3 91.6 L402.2 92.1 L402.2 92.8Z" fill="none" stroke="#bcbcbc" stroke-width="0.5"/>
<path d="M401.5 93.4 L401.5 93.6 L401.6 94.1 L400.9 94.9 L400.9 95.1 L400.8 95.4 L400.4 96.2 L400.1 96.3 L399.5 96.6 L398.8 96.9 L398.5 97.4 L398.1 97.3 L397.8 97.5 L397.0 97.4 L396.3 97.7 L395.9 97.6 L395.4 97.4 L395.0 97.5 L394.5 97.5 L393.8 97.2 L393.3 97.0 L393.0 96.4 L392.5 96.5 L392.1 96.0 L391.6 95.7 L391.5 95.0 L391.1 94.6 L391.2 94.3 L391.1 94.0 L390.9 93.3 L390.9 92.9 L390.8 92.2 L390.9 91.8 L391.1 91.1 L390.9 91.0 L391.1 90.5 L391.6 90.1 L391.7 89.8 L392.0 89.1 L392.6 89.0 L393.1 88.7 L393.6 88.4 L393.9 87.9 L394.5 88.0 L394.7 87.7 L395.6 87.8 L395.8 87.5 L396.6 87.8 L396.9 87.5 L397.5 87.9 L397.8 87.7 L398.7 87.8 L399.2 88.4 L399.6 88.5 L399.7 88.8 L400.5 89.2 L400.4 89.8 L401.1 90.0 L401.3 90.4 L401.5 90.7 L401.7 91.2 L401.5 92.1 L401.5 92.6 L401.6 93.0Z" fill="none" stroke="#d0d0d0" stroke-width="0.5"/>
<path d="M400.8 93.2 L400.9 93.8 L400.9 94.3 L400.3 94.3 L400.4 94.8 L399.9 95.3 L399.7 95.7 L399.5 95.7 L399.1 96.1 L398.5 96.5 L398.0 96.8 L397.7 96.6 L397.1 96.8 L397.0 97.2 L396.5 97.2 L396.0 97.0 L395.3 96.9 L394.9 96.7 L394.8 96.5 L394.4 96.5 L393.6 96.4 L393.1 96.4 L393.0 95.7 L392.6 95.4 L392.4 95.2 L392.0 94.8 L391.8 94.7 L391.9 93.9 L391.5 93.6 L391.3 93.2 L391.4 92.7 L391.6 92.5 L391.4 92.0 L391.4 91.3 L391.5 91.1 L391.8 90.7 L392.0 90.2 L392.5 90.0 L392.7 89.5 L392.7 89.5 L393.5 89.3 L393.7 88.9 L394.2 88.7 L394.4 88.4 L394.9 88.3 L395.3 88.2 L396.1 88.1 L396.6 88.3 L396.9 88.3 L397.4 88.2 L397.7 88.5 L398.0 88.7 L398.8 88.7 L399.1 89.1 L399.6 89.5 L399.7 89.4 L400.3 90.1 L400.4 90.4 L400.3 90.8 L401.0 91.0 L400.7 91.5 L401.0 92.0 L401.0 92.4 L400.9 92.7Z" fill="none" stroke="#e0e0e0" stroke-width="0.5"/>
<path d="M400.1 93.0 L400.3 93.6 L400.3 93.9 L399.9 94.3 L399.6 94.6 L399.5 95.1 L399.1 95.1 L399.2 95.5 L398.4 95.6 L398.3 95.9 L398.1 95.8 L397.5 95.9 L397.1 96.2 L396.7 96.5 L396.4 96.1 L396.1 96.2 L395.5 96.1 L395.0 96.3 L394.9 96.1 L394.3 95.9 L394.1 95.6 L393.6 95.5 L393.6 95.3 L393.3 95.1 L393.2 94.7 L392.7 94.4 L392.6 94.4 L392.6 94.0 L392.1 93.6 L392.3 93.3 L391.9 92.7 L392.1 92.3 L392.0 92.2 L392.3 91.6 L392.4 91.2 L392.3 91.1 L392.7 90.7 L392.9 90.4 L393.2 89.9 L393.3 89.9 L393.8 89.6 L394.0 89.5 L394.7 89.0 L395.0 89.1 L395.3 89.0 L395.7 88.9 L396.1 88.8 L396.4 88.9 L396.8 88.7 L397.4 88.9 L397.8 89.0 L398.1 89.3 L398.2 89.5 L398.5 89.7 L399.1 89.9 L399.4 90.0 L399.5 90.2 L399.9 90.9 L399.8 90.8 L399.9 91.5 L400.0 91.5 L400.2 91.9 L400.2 92.5 L400.5 92.7Z" fill="none" stroke="#ececec" stroke-width="0.5"/>
<path d="M376.1 79.8h.6v.6h-.6zM374.8 74.5h.6v.6h-.6zM376.2 74.0h.6v.6h-.6zM375.2 72.9h.6v.6h-.6zM378.7 66.3h.6v.6h-.6zM377.5 57.2h.6v.6h-.6zM376.4 75.8h.6v.6h-.6zM377.9 69.1h.6v.6h-.6zM381.5 68.2h.6v.6h-.6zM368.5 50.4h.6v.6h-.6zM379.7 86.6h.6v.6h-.6zM372.6 68.4h.6v.6h-.6zM368.8 48.3h.6v.6h-.6zM374.4 64.6h.6v.6h-.6zM382.1 78.9h.6v.6h-.6zM380.8 87.0h.6v.6h-.6zM381.6 92.1h.6v.6h-.6zM374.4 55.1h.6v.6h-.6zM374.1 51.1h.6v.6h-.6zM381.9 73.1h.6v.6h-.6zM379.3 71.0h.6v.6h-.6zM377.7 73.9h.6v.6h-.6zM373.2 51.8h.6v.6h-.6zM376.7 53.8h.6v.6h-.6zM372.5 60.6h.6v.6h-.6zM381.6 65.3h.6v.6h-.6zM369.0 50.2h.6v.6h-.6zM373.1 67.2h.6v.6h-.6zM376.0 59.6h.6v.6h-.6zM368.6 55.2h.6v.6h-.6zM371.0 47.1h.6v.6h-.6zM383.4 83.9h.6v.6h-.6zM380.7 64.6h.6v.6h-.6zM374.3 57.1h.6v.6h-.6zM378.0 61.7h.6v.6h-.6zM371.4 46.5h.6v.6h-.6zM378.5 64.4h.6v.6h-.6zM381.9 91.3h.6v.6h-.6zM382.4 77.4h.6v.6h-.6zM376.2 76.6h.6v.6h-.6zM370.4 52.3h.6v.6h-.6zM368.7 49.1h.6v.6h-.6zM381.6 74.2h.6v.6h-.6zM373.6 53.0h.6v.6h-.6zM375.6 60.0h.6v.6h-.6zM372.5 50.2h.6v.6h-.6zM372.7 49.8h.6v.6h-.6zM382.5 89.0h.6v.6h-.6zM377.9 73.1h.6v.6h-.6zM375.3 88.3h.6v.6h-.6zM379.8 89.4h.6v.6h-.6zM374.2 58.4h.6v.6h-.6zM373.6 55.0h.6v.6h-.6zM371.6 57.2h.6v.6h-.6zM376.7 78.6h.6v.6h-.6zM368.9 49.1h.6v.6h-.6zM379.3 77.0h.6v.6h-.6zM381.0 67.5h.6v.6h-.6zM375.8 70.1h.6v.6h-.6zM379.4 63.9h.6v.6h-.6zM379.4 63.7h.6v.6h-.6zM381.8 92.3h.6v.6h-.6zM374.3 69.4h.6v.6h-.6zM381.5 69.8h.6v.6h-.6zM378.3 87.7h.6v.6h-.6zM375.9 67.2h.6v.6h-.6zM380.3 64.7h.6v.6h-.6zM375.3 68.3h.6v.6h-.6zM369.7 54.5h.6v.6h-.6zM368.3 49.7h.6v.6h-.6zM379.4 79.7h.6v.6h-.6zM375.3 84.1h.6v.6h-.6zM372.1 56.6h.6v.6h-.6zM372.1 59.7h.6v.6h-.6zM380.1 73.4h.6v.6h-.6zM368.8 48.7h.6v.6h-.6zM381.1 77.6h.6v.6h-.6zM374.4 69.1h.6v.6h-.6zM375.7 65.5h.6v.6h-.6zM379.7 84.3h.6v.6h-.6zM369.2 53.9h.6v.6h-.6zM376.1 56.6h.6v.6h-.6zM375.1 52.1h.6v.6h-.6zM380.2 66.2h.6v.6h-.6zM376.7 56.4h.6v.6h-.6zM382.6 76.7h.6v.6h-.6zM374.1 56.4h.6v.6h-.6zM372.7 55.8h.6v.6h-.6zM382.6 78.4h.6v.6h-.6zM376.0 82.4h.6v.6h-.6zM378.9 69.4h.6v.6h-.6zM376.6 86.4h.6v.6h-.6zM372.1 59.2h.6v.6h-.6zM381.0 82.8h.6v.6h-.6zM376.4 85.1h.6v.6h-.6zM373.0 56.6h.6v.6h-.6zM377.5 69.7h.6v.6h-.6zM373.4 51.2h.6v.6h-.6zM376.9 87.9h.6v.6h-.6zM368.6 52.4h.6v.6h-.6zM376.7 81.4h.6v.6h-.6zM376.6 84.1h.6v.6h-.6zM378.3 64.5h.6v.6h-.6zM368.6 53.8h.6v.6h-.6zM384.0 77.7h.6v.6h-.6zM378.6 88.0h.6v.6h-.6zM374.9 80.1h.6v.6h-.6zM374.9 51.0h.6v.6h-.6zM379.8 89.3h.6v.6h-.6zM379.1 88.3h.6v.6h-.6zM379.8 63.4h.6v.6h-.6zM372.7 63.9h.6v.6h-.6zM377.2 62.8h.6v.6h-.6zM368.7 49.0h.6v.6h-.6zM381.6 82.4h.6v.6h-.6zM375.0 59.9h.6v.6h-.6zM380.7 91.6h.6v.6h-.6zM370.3 54.4h.6v.6h-.6zM376.9 68.9h.6v.6h-.6zM380.3 77.9h.6v.6h-.6zM376.8 74.3h.6v.6h-.6zM369.0 54.0h.6v.6h-.6zM374.8 78.4h.6v.6h-.6zM375.1 80.9h.6v.6h-.6zM376.5 70.9h.6v.6h-.6zM382.2 83.9h.6v.6h-.6zM380.7 77.9h.6v.6h-.6zM368.6 51.7h.6v.6h-.6zM376.4 72.8h.6v.6h-.6zM372.9 58.2h.6v.6h-.6zM374.3 68.6h.6v.6h-.6zM377.1 78.6h.6v.6h-.6zM379.1 81.8h.6v.6h-.6zM368.8 54.4h.6v.6h-.6zM380.6 87.0h.6v.6h-.6zM378.0 61.3h.6v.6h-.6zM377.2 69.5h.6v.6h-.6zM373.9 48.1h.6v.6h-.6zM370.6 48.8h.6v.6h-.6zM376.1 66.8h.6v.6h-.6zM370.9 58.3h.6v.6h-.6zM376.7 89.1h.6v.6h-.6zM382.3 83.9h.6v.6h-.6zM379.1 88.1h.6v.6h-.6zM383.0 76.7h.6v.6h-.6zM383.0 88.2h.6v.6h-.6zM383.3 88.0h.6v.6h-.6zM376.5 57.6h.6v.6h-.6zM374.3 67.2h.6v.6h-.6zM378.5 86.7h.6v.6h-.6zM380.2 76.7h.6v.6h-.6zM374.6 63.5h.6v.6h-.6zM369.5 51.1h.6v.6h-.6zM372.8 61.7h.6v.6h-.6zM381.9 75.2h.6v.6h-.6zM370.3 56.3h.6v.6h-.6zM368.8 48.0h.6v.6h-.6zM370.7 56.7h.6v.6h-.6zM376.2 86.0h.6v.6h-.6zM384.1 86.8h.6v.6h-.6zM382.0 87.4h.6v.6h-.6zM367.8 54.0h.6v.6h-.6zM372.4 59.1h.6v.6h-.6zM374.4 55.6h.6v.6h-.6zM373.4 52.7h.6v.6h-.6zM378.2 63.4h.6v.6h-.6zM375.4 81.8h.6v.6h-.6zM367.6 51.8h.6v.6h-.6zM375.2 75.5h.6v.6h-.6zM381.0 86.2h.6v.6h-.6zM380.1 79.3h.6v.6h-.6zM370.6 53.9h.6v.6h-.6zM382.8 78.2h.6v.6h-.6zM373.1 48.0h.6v.6h-.6zM369.9 54.1h.6v.6h-.6zM381.3 81.1h.6v.6h-.6zM381.6 92.2h.6v.6h-.6zM372.2 49.3h.6v.6h-.6zM376.7 76.7h.6v.6h-.6zM373.5 50.2h.6v.6h-.6zM369.6 46.8h.6v.6h-.6zM374.3 67.5h.6v.6h-.6zM375.5 58.7h.6v.6h-.6zM377.6 70.2h.6v.6h-.6zM382.3 88.9h.6v.6h-.6zM375.1 56.1h.6v.6h-.6zM374.1 62.9h.6v.6h-.6zM377.8 81.6h.6v.6h-.6zM375.3 68.2h.6v.6h-.6zM373.6 68.7h.6v.6h-.6zM380.2 70.7h.6v.6h-.6zM376.3 64.3h.6v.6h-.6zM376.0 56.5h.6v.6h-.6zM373.0 67.9h.6v.6h-.6zM380.9 78.8h.6v.6h-.6zM377.1 53.2h.6v.6h-.6zM371.7 58.5h.6v.6h-.6zM377.6 73.6h.6v.6h-.6zM379.3 81.9h.6v.6h-.6zM375.0 63.0h.6v.6h-.6zM370.7 54.5h.6v.6h-.6zM379.7 91.0h.6v.6h-.6zM373.8 54.3h.6v.6h-.6zM382.0 83.7h.6v.6h-.6zM369.9 49.5h.6v.6h-.6zM377.4 68.3h.6v.6h-.6zM380.8 88.0h.6v.6h-.6zM380.0 81.9h.6v.6h-.6zM379.6 73.4h.6v.6h-.6zM376.3 87.7h.6v.6h-.6zM379.6 72.8h.6v.6h-.6zM370.5 52.0h.6v.6h-.6zM372.5 48.5h.6v.6h-.6zM376.4 69.5h.6v.6h-.6zM378.0 73.2h.6v.6h-.6zM371.9 64.0h.6v.6h-.6zM374.7 56.9h.6v.6h-.6zM370.7 56.5h.6v.6h-.6zM376.3 84.5h.6v.6h-.6zM376.9 84.4h.6v.6h-.6zM382.0 91.8h.6v.6h-.6zM372.3 55.9h.6v.6h-.6zM374.4 72.6h.6v.6h-.6zM374.4 65.0h.6v.6h-.6zM383.9 86.9h.6v.6h-.6zM375.9 75.2h.6v.6h-.6zM380.8 85.1h.6v.6h-.6zM372.7 53.4h.6v.6h-.6zM381.2 86.1h.6v.6h-.6zM376.3 56.4h.6v.6h-.6zM377.5 85.0h.6v.6h-.6zM379.5 63.3h.6v.6h-.6zM371.9 59.5h.6v.6h-.6zM372.6 48.6h.6v.6h-.6zM382.4 91.5h.6v.6h-.6zM383.2 78.8h.6v.6h-.6zM370.2 55.6h.6v.6h-.6zM381.2 91.8h.6v.6h-.6zM376.7 54.5h.6v.6h-.6zM369.3 46.5h.6v.6h-.6zM372.6 51.8h.6v.6h-.6zM369.5 47.2h.6v.6h-.6zM369.4 46.9h.6v.6h-.6zM371.7 55.6h.6v.6h-.6zM378.2 90.6h.6v.6h-.6zM369.8 50.3h.6v.6h-.6zM378.4 79.4h.6v.6h-.6zM374.5 57.4h.6v.6h-.6zM382.1 92.1h.6v.6h-.6zM371.2 48.6h.6v.6h-.6zM381.5 73.1h.6v.6h-.6zM382.3 71.8h.6v.6h-.6zM378.3 67.7h.6v.6h-.6zM381.9 72.3h.6v.6h-.6zM373.1 51.5h.6v.6h-.6zM379.0 90.4h.6v.6h-.6zM379.1 73.6h.6v.6h-.6zM367.7 54.1h.6v.6h-.6zM381.5 87.6h.6v.6h-.6zM378.1 76.5h.6v.6h-.6zM369.1 50.4h.6v.6h-.6zM374.8 73.8h.6v.6h-.6zM370.8 57.6h.6v.6h-.6zM373.5 64.4h.6v.6h-.6zM382.5 91.8h.6v.6h-.6zM375.5 78.5h.6v.6h-.6zM375.0 68.0h.6v.6h-.6zM379.5 84.4h.6v.6h-.6zM373.2 64.8h.6v.6h-.6zM379.9 73.0h.6v.6h-.6zM378.7 80.0h.6v.6h-.6zM382.5 75.6h.6v.6h-.6zM376.6 71.4h.6v.6h-.6zM373.1 65.4h.6v.6h-.6zM377.9 81.0h.6v.6h-.6zM381.7 86.0h.6v.6h-.6zM380.5 87.8h.6v.6h-.6zM380.7 73.3h.6v.6h-.6zM375.1 74.3h.6v.6h-.6zM373.4 63.5h.6v.6h-.6zM376.3 63.9h.6v.6h-.6zM377.7 69.0h.6v.6h-.6zM380.9 71.2h.6v.6h-.6zM379.8 63.5h.6v.6h-.6zM378.0 73.6h.6v.6h-.6zM375.0 51.6h.6v.6h-.6zM375.2 72.7h.6v.6h-.6zM372.5 67.3h.6v.6h-.6zM380.8 80.1h.6v.6h-.6zM375.9 74.3h.6v.6h-.6zM374.8 52.2h.6v.6h-.6zM368.2 51.3h.6v.6h-.6zM372.7 61.3h.6v.6h-.6zM373.8 65.6h.6v.6h-.6zM377.8 60.6h.6v.6h-.6zM372.2 67.7h.6v.6h-.6zM377.9 77.1h.6v.6h-.6zM378.8 77.3h.6v.6h-.6zM378.9 89.9h.6v.6h-.6zM374.3 58.8h.6v.6h-.6zM367.0 53.8h.6v.6h-.6zM372.0 52.7h.6v.6h-.6zM374.2 55.4h.6v.6h-.6zM377.6 67.0h.6v.6h-.6zM379.6 72.9h.6v.6h-.6zM376.4 62.3h.6v.6h-.6zM372.0 55.3h.6v.6h-.6zM376.9 68.2h.6v.6h-.6zM381.3 80.9h.6v.6h-.6zM373.4 65.5h.6v.6h-.6zM377.5 66.0h.6v.6h-.6zM380.7 64.7h.6v.6h-.6zM376.3 88.3h.6v.6h-.6zM375.8 52.4h.6v.6h-.6zM374.5 74.9h.6v.6h-.6zM372.5 60.5h.6v.6h-.6zM376.0 88.9h.6v.6h-.6zM378.0 77.5h.6v.6h-.6zM378.0 81.5h.6v.6h-.6zM377.8 71.3h.6v.6h-.6zM380.9 63.9h.6v.6h-.6zM381.5 71.2h.6v.6h-.6zM375.7 64.8h.6v.6h-.6zM379.6 62.9h.6v.6h-.6zM379.3 87.3h.6v.6h-.6zM369.4 51.0h.6v.6h-.6zM374.7 73.9h.6v.6h-.6zM384.0 85.1h.6v.6h-.6zM377.2 59.6h.6v.6h-.6zM372.7 49.2h.6v.6h-.6z" fill="#3a3a3a"/>
<path d="M393.6 81.0h.5v.5h-.5zM389.5 71.6h.5v.5h-.5zM391.2 76.3h.5v.5h-.5zM389.7 83.2h.5v.5h-.5zM393.1 80.8h.5v.5h-.5zM390.3 72.8h.5v.5h-.5zM393.2 81.1h.5v.5h-.5zM390.8 83.8h.5v.5h-.5zM393.7 74.5h.5v.5h-.5zM390.1 70.9h.5v.5h-.5zM392.5 82.3h.5v.5h-.5zM391.6 76.2h.5v.5h-.5zM391.7 77.1h.5v.5h-.5zM392.7 80.4h.5v.5h-.5zM391.5 74.6h.5v.5h-.5zM391.8 79.9h.5v.5h-.5zM388.6 80.8h.5v.5h-.5zM391.0 79.7h.5v.5h-.5zM391.5 82.7h.5v.5h-.5zM390.9 83.2h.5v.5h-.5zM393.1 78.9h.5v.5h-.5zM392.3 79.6h.5v.5h-.5zM393.5 78.0h.5v.5h-.5zM391.6 77.9h.5v.5h-.5zM390.2 77.7h.5v.5h-.5zM392.0 73.1h.5v.5h-.5zM392.6 77.7h.5v.5h-.5zM389.4 78.8h.5v.5h-.5zM391.2 71.5h.5v.5h-.5zM392.9 78.4h.5v.5h-.5zM390.3 72.1h.5v.5h-.5zM390.4 80.3h.5v.5h-.5zM389.5 73.8h.5v.5h-.5zM390.7 77.6h.5v.5h-.5zM389.4 78.8h.5v.5h-.5zM391.1 76.8h.5v.5h-.5zM389.4 81.8h.5v.5h-.5zM387.5 82.5h.5v.5h-.5zM390.3 71.7h.5v.5h-.5zM391.8 75.3h.5v.5h-.5zM391.1 73.5h.5v.5h-.5zM391.1 74.6h.5v.5h-.5zM389.6 80.3h.5v.5h-.5zM388.8 75.9h.5v.5h-.5zM389.3 78.6h.5v.5h-.5zM388.6 77.4h.5v.5h-.5zM391.5 72.3h.5v.5h-.5zM389.1 82.1h.5v.5h-.5zM390.6 81.6h.5v.5h-.5zM390.2 77.4h.5v.5h-.5zM393.9 78.4h.5v.5h-.5zM393.5 76.4h.5v.5h-.5zM390.9 71.5h.5v.5h-.5zM390.8 81.6h.5v.5h-.5zM392.0 81.6h.5v.5h-.5zM390.6 71.6h.5v.5h-.5zM390.4 77.0h.5v.5h-.5zM390.9 77.1h.5v.5h-.5zM389.3 77.0h.5v.5h-.5zM391.4 73.7h.5v.5h-.5z" fill="#777"/>
<line x1="230.40" y1="24.50" x2="325.00" y2="24.50" stroke="#000" stroke-width="1.0"/>
<line x1="230.40" y1="24.00" x2="230.40" y2="121.50" stroke="#000" stroke-width="1.1"/>
<line x1="325.00" y1="24.00" x2="325.00" y2="121.50" stroke="#000" stroke-width="1.1"/>
<line x1="229.90" y1="121.00" x2="325.50" y2="121.00" stroke="#000" stroke-width="1.5"/>
<line x1="284.20" y1="24.50" x2="284.20" y2="121.00" stroke="#000" stroke-width="1.0"/>
<line x1="230.40" y1="70.60" x2="325.00" y2="70.60" stroke="#000" stroke-width="1.0"/>
<line x1="330.20" y1="24.50" x2="425.60" y2="24.50" stroke="#000" stroke-width="1.0"/>
<line x1="330.20" y1="24.00" x2="330.20" y2="121.50" stroke="#000" stroke-width="1.1"/>
<line x1="425.60" y1="24.00" x2="425.60" y2="121.50" stroke="#000" stroke-width="1.1"/>
<line x1="329.70" y1="121.00" x2="426.10" y2="121.00" stroke="#000" stroke-width="1.5"/>
<line x1="384.30" y1="24.50" x2="384.30" y2="121.00" stroke="#000" stroke-width="1.0"/>
<line x1="330.20" y1="70.60" x2="425.60" y2="70.60" stroke="#000" stroke-width="1.0"/>
<text x="233.90" y="37.10" font-size="9.2" textLength="26.30" lengthAdjust="spacingAndGlyphs" fill="#222">5.05%</text>
<text x="333.70" y="37.10" font-size="9.2" textLength="30.10" lengthAdjust="spacingAndGlyphs" fill="#222">11.43%</text>
</g>
<g id="pC">
<text x="458.40" y="12.40" font-size="15.2" font-weight="bold" textLength="9.20" lengthAdjust="spacingAndGlyphs">C</text>
<line x1="502.40" y1="91.70" x2="502.40" y2="99.40" stroke="#000" stroke-width="1.0"/>
<line x1="502.40" y1="108.50" x2="502.40" y2="110.50" stroke="#000" stroke-width="1.0"/>
<line x1="498.40" y1="91.70" x2="506.40" y2="91.70" stroke="#000" stroke-width="1.0"/>
<line x1="498.40" y1="110.50" x2="506.40" y2="110.50" stroke="#000" stroke-width="1.0"/>
<rect x="494.60" y="99.40" width="15.60" height="9.10" fill="#fff" stroke="#000" stroke-width="1.0"/>
<line x1="494.60" y1="103.40" x2="510.20" y2="103.40" stroke="#000" stroke-width="1.0"/>
<line x1="520.15" y1="14.40" x2="520.15" y2="54.70" stroke="#000" stroke-width="1.0"/>
<line x1="520.15" y1="82.70" x2="520.15" y2="93.80" stroke="#000" stroke-width="1.0"/>
<line x1="516.15" y1="14.40" x2="524.15" y2="14.40" stroke="#000" stroke-width="1.0"/>
<line x1="516.15" y1="93.80" x2="524.15" y2="93.80" stroke="#000" stroke-width="1.0"/>
<rect x="512.40" y="54.70" width="15.50" height="28.00" fill="#a6a6a6" stroke="#000" stroke-width="1.0"/>
<line x1="512.40" y1="81.10" x2="527.90" y2="81.10" stroke="#000" stroke-width="1.0"/>
<line x1="553.70" y1="77.10" x2="553.70" y2="94.50" stroke="#000" stroke-width="1.0"/>
<line x1="553.70" y1="114.30" x2="553.70" y2="114.30" stroke="#000" stroke-width="1.0"/>
<line x1="549.70" y1="77.10" x2="557.70" y2="77.10" stroke="#000" stroke-width="1.0"/>
<rect x="545.80" y="94.50" width="15.80" height="19.80" fill="#fff" stroke="#000" stroke-width="1.0"/>
<line x1="545.80" y1="112.50" x2="561.60" y2="112.50" stroke="#000" stroke-width="1.0"/>
<line x1="572.20" y1="39.40" x2="572.20" y2="58.90" stroke="#000" stroke-width="1.0"/>
<line x1="572.20" y1="101.50" x2="572.20" y2="106.60" stroke="#000" stroke-width="1.0"/>
<line x1="568.20" y1="39.40" x2="576.20" y2="39.40" stroke="#000" stroke-width="1.0"/>
<line x1="568.20" y1="106.60" x2="576.20" y2="106.60" stroke="#000" stroke-width="1.0"/>
<rect x="564.40" y="58.90" width="15.60" height="42.60" fill="#a6a6a6" stroke="#000" stroke-width="1.0"/>
<line x1="564.40" y1="91.30" x2="580.00" y2="91.30" stroke="#000" stroke-width="1.0"/>
<line x1="605.55" y1="108.30" x2="605.55" y2="108.30" stroke="#000" stroke-width="1.0"/>
<line x1="605.55" y1="116.70" x2="605.55" y2="116.70" stroke="#000" stroke-width="1.0"/>
<rect x="597.60" y="108.30" width="15.90" height="8.40" fill="#fff" stroke="#000" stroke-width="1.0"/>
<line x1="624.25" y1="100.40" x2="624.25" y2="101.90" stroke="#000" stroke-width="1.0"/>
<line x1="624.25" y1="108.70" x2="624.25" y2="108.70" stroke="#000" stroke-width="1.0"/>
<line x1="620.25" y1="100.40" x2="628.25" y2="100.40" stroke="#000" stroke-width="1.0"/>
<rect x="616.30" y="101.90" width="15.90" height="6.80" fill="#a6a6a6" stroke="#000" stroke-width="1.0"/>
<line x1="616.30" y1="105.50" x2="632.20" y2="105.50" stroke="#000" stroke-width="1.0"/>
<line x1="485.60" y1="14.00" x2="485.60" y2="117.40" stroke="#000" stroke-width="1.2"/>
<line x1="485.00" y1="116.80" x2="633.20" y2="116.80" stroke="#000" stroke-width="1.3"/>
<line x1="483.00" y1="17.20" x2="485.60" y2="17.20" stroke="#000" stroke-width="1.1"/>
<text x="481.40" y="20.20" font-size="8.5" font-weight="bold" text-anchor="end">30</text>
<line x1="483.00" y1="50.40" x2="485.60" y2="50.40" stroke="#000" stroke-width="1.1"/>
<text x="481.40" y="53.40" font-size="8.5" font-weight="bold" text-anchor="end">20</text>
<line x1="483.00" y1="83.60" x2="485.60" y2="83.60" stroke="#000" stroke-width="1.1"/>
<text x="481.40" y="86.60" font-size="8.5" font-weight="bold" text-anchor="end">10</text>
<line x1="483.00" y1="116.80" x2="485.60" y2="116.80" stroke="#000" stroke-width="1.1"/>
<text x="481.40" y="119.80" font-size="8.5" font-weight="bold" text-anchor="end">0</text>
<line x1="511.00" y1="116.80" x2="511.00" y2="118.80" stroke="#000" stroke-width="1.1"/>
<line x1="562.20" y1="116.80" x2="562.20" y2="118.80" stroke="#000" stroke-width="1.1"/>
<line x1="614.20" y1="116.80" x2="614.20" y2="118.80" stroke="#000" stroke-width="1.1"/>
<text x="468.10" y="85.80" font-size="12" textLength="39.40" lengthAdjust="spacingAndGlyphs" transform="rotate(-90 468.10 85.80)" stroke="#000" stroke-width="0.25">%CD4+</text>
<text x="510.90" y="127.40" font-size="8.2" font-weight="bold" text-anchor="middle" textLength="24.20" lengthAdjust="spacingAndGlyphs">CD25+</text>
<text x="511.10" y="136.60" font-size="8.2" font-weight="bold" text-anchor="middle" textLength="28.20" lengthAdjust="spacingAndGlyphs">FoxP3+</text>
<text x="562.80" y="127.40" font-size="8.2" font-weight="bold" text-anchor="middle" textLength="24.20" lengthAdjust="spacingAndGlyphs">CD39+</text>
<text x="563.00" y="136.60" font-size="8.2" font-weight="bold" text-anchor="middle" textLength="28.20" lengthAdjust="spacingAndGlyphs">FoxP3+</text>
<text x="614.40" y="127.40" font-size="8.2" font-weight="bold" text-anchor="middle" textLength="24.20" lengthAdjust="spacingAndGlyphs">CD73+</text>
<text x="614.60" y="136.60" font-size="8.2" font-weight="bold" text-anchor="middle" textLength="28.20" lengthAdjust="spacingAndGlyphs">FoxP3+</text>
<text x="519.30" y="13.04" font-size="13.6" text-anchor="middle" font-family="'DejaVu Sans', 'Liberation Sans', sans-serif" stroke="#000" stroke-width="0.3">*</text>
<text x="571.10" y="37.24" font-size="13.6" text-anchor="middle" font-family="'DejaVu Sans', 'Liberation Sans', sans-serif" stroke="#000" stroke-width="0.3">*</text>
<rect x="583.60" y="27.10" width="8.80" height="7.80" fill="#fff" stroke="#000" stroke-width="0.9"/>
<rect x="583.60" y="42.50" width="8.80" height="7.80" fill="#a6a6a6" stroke="#000" stroke-width="0.9"/>
<text x="599.30" y="35.00" font-size="10.2" textLength="20.00" lengthAdjust="spacingAndGlyphs" stroke="#000" stroke-width="0.15">MLR</text>
<text x="599.30" y="49.20" font-size="10.2" textLength="84.70" lengthAdjust="spacingAndGlyphs" stroke="#000" stroke-width="0.15">MLR + CM-hAMSC</text>
</g>
<g id="legD">
<rect x="17.90" y="168.30" width="9.00" height="6.30" fill="#fff" stroke="#000" stroke-width="0.9"/>
<rect x="17.50" y="179.80" width="9.70" height="7.60" fill="#000" stroke="#000" stroke-width="0.5"/>
<text x="31.20" y="177.00" font-size="8.4" textLength="15.20" lengthAdjust="spacingAndGlyphs">MLR</text>
<text x="31.20" y="187.50" font-size="8.4" textLength="64.30" lengthAdjust="spacingAndGlyphs">MLR + CM-hAMSC</text>
</g>
<g id="pD">
<text x="1.60" y="183.20" font-size="15.2" font-weight="bold" textLength="9.80" lengthAdjust="spacingAndGlyphs">D</text>
<text x="84.50" y="200.10" font-size="9.0" font-weight="bold" text-anchor="middle" textLength="32.40" lengthAdjust="spacingAndGlyphs">CTLA-4</text>
<line x1="58.70" y1="258.00" x2="58.70" y2="263.10" stroke="#000" stroke-width="1.1"/>
<line x1="55.60" y1="258.00" x2="61.80" y2="258.00" stroke="#000" stroke-width="1.1"/>
<rect x="53.10" y="263.60" width="11.20" height="43.70" fill="#fff" stroke="#000" stroke-width="1.1"/>
<line x1="72.00" y1="222.20" x2="72.00" y2="230.00" stroke="#000" stroke-width="1.1"/>
<line x1="68.50" y1="222.20" x2="75.50" y2="222.20" stroke="#000" stroke-width="1.1"/>
<rect x="66.50" y="230.50" width="11.00" height="76.80" fill="#000" stroke="#000" stroke-width="1.1"/>
<line x1="96.80" y1="258.70" x2="96.80" y2="263.70" stroke="#000" stroke-width="1.1"/>
<line x1="93.70" y1="258.70" x2="99.90" y2="258.70" stroke="#000" stroke-width="1.1"/>
<rect x="91.10" y="264.20" width="11.40" height="43.10" fill="#fff" stroke="#000" stroke-width="1.1"/>
<line x1="110.55" y1="219.20" x2="110.55" y2="226.60" stroke="#000" stroke-width="1.1"/>
<line x1="107.05" y1="219.20" x2="114.05" y2="219.20" stroke="#000" stroke-width="1.1"/>
<rect x="105.10" y="227.10" width="10.90" height="80.20" fill="#000" stroke="#000" stroke-width="1.1"/>
<line x1="46.40" y1="209.90" x2="46.40" y2="308.00" stroke="#000" stroke-width="1.4"/>
<line x1="45.70" y1="307.30" x2="122.30" y2="307.30" stroke="#000" stroke-width="1.4"/>
<line x1="43.00" y1="210.50" x2="46.40" y2="210.50" stroke="#000" stroke-width="1.2"/>
<text x="41.40" y="213.30" font-size="7.8" font-weight="bold" text-anchor="end">50</text>
<line x1="43.00" y1="229.86" x2="46.40" y2="229.86" stroke="#000" stroke-width="1.2"/>
<text x="41.40" y="232.66" font-size="7.8" font-weight="bold" text-anchor="end">40</text>
<line x1="43.00" y1="249.22" x2="46.40" y2="249.22" stroke="#000" stroke-width="1.2"/>
<text x="41.40" y="252.02" font-size="7.8" font-weight="bold" text-anchor="end">30</text>
<line x1="43.00" y1="268.58" x2="46.40" y2="268.58" stroke="#000" stroke-width="1.2"/>
<text x="41.40" y="271.38" font-size="7.8" font-weight="bold" text-anchor="end">20</text>
<line x1="43.00" y1="287.94" x2="46.40" y2="287.94" stroke="#000" stroke-width="1.2"/>
<text x="41.40" y="290.74" font-size="7.8" font-weight="bold" text-anchor="end">10</text>
<line x1="43.00" y1="307.30" x2="46.40" y2="307.30" stroke="#000" stroke-width="1.2"/>
<text x="41.40" y="310.10" font-size="7.8" font-weight="bold" text-anchor="end">0</text>
<line x1="66.00" y1="307.30" x2="66.00" y2="309.50" stroke="#000" stroke-width="1.1"/>
<line x1="103.90" y1="307.30" x2="103.90" y2="309.50" stroke="#000" stroke-width="1.1"/>
<text x="65.20" y="318.30" font-size="7.6" font-weight="bold" text-anchor="middle" textLength="23.70" lengthAdjust="spacingAndGlyphs">CD25+</text>
<text x="65.20" y="326.20" font-size="7.6" font-weight="bold" text-anchor="middle" textLength="26.30" lengthAdjust="spacingAndGlyphs">FoxP3+</text>
<text x="103.50" y="318.30" font-size="7.6" font-weight="bold" text-anchor="middle" textLength="23.80" lengthAdjust="spacingAndGlyphs">CD39+</text>
<text x="103.50" y="326.20" font-size="7.6" font-weight="bold" text-anchor="middle" textLength="25.90" lengthAdjust="spacingAndGlyphs">FoxP3+</text>
<text x="20.60" y="279.40" font-size="8.3" font-weight="bold" textLength="39.30" lengthAdjust="spacingAndGlyphs" transform="rotate(-90 20.60 279.40)">%CTLA-4+</text>
<text x="72.70" y="217.10" font-size="10.2" font-weight="bold" text-anchor="middle">*</text>
<text x="110.00" y="216.90" font-size="10.2" font-weight="bold" text-anchor="middle">*</text>
</g>
<g id="pE">
<text x="148.20" y="183.00" font-size="15.2" font-weight="bold" textLength="8.20" lengthAdjust="spacingAndGlyphs">E</text>
<text x="204.80" y="200.10" font-size="9.0" font-weight="bold" text-anchor="middle" textLength="26.00" lengthAdjust="spacingAndGlyphs">GARP</text>
<line x1="179.50" y1="263.50" x2="179.50" y2="266.60" stroke="#000" stroke-width="1.1"/>
<line x1="176.40" y1="263.50" x2="182.60" y2="263.50" stroke="#000" stroke-width="1.1"/>
<rect x="174.30" y="267.10" width="10.40" height="40.10" fill="#fff" stroke="#000" stroke-width="1.1"/>
<line x1="192.50" y1="224.40" x2="192.50" y2="235.60" stroke="#000" stroke-width="1.1"/>
<line x1="189.25" y1="224.40" x2="195.75" y2="224.40" stroke="#000" stroke-width="1.1"/>
<rect x="187.20" y="236.10" width="10.60" height="71.10" fill="#000" stroke="#000" stroke-width="1.1"/>
<line x1="217.30" y1="257.40" x2="217.30" y2="261.50" stroke="#000" stroke-width="1.1"/>
<line x1="214.20" y1="257.40" x2="220.40" y2="257.40" stroke="#000" stroke-width="1.1"/>
<rect x="212.10" y="262.00" width="10.40" height="45.20" fill="#fff" stroke="#000" stroke-width="1.1"/>
<line x1="230.30" y1="234.00" x2="230.30" y2="240.70" stroke="#000" stroke-width="1.1"/>
<line x1="226.80" y1="234.00" x2="233.80" y2="234.00" stroke="#000" stroke-width="1.1"/>
<rect x="225.00" y="241.20" width="10.60" height="66.00" fill="#000" stroke="#000" stroke-width="1.1"/>
<line x1="166.80" y1="209.80" x2="166.80" y2="307.90" stroke="#000" stroke-width="1.4"/>
<line x1="166.10" y1="307.20" x2="242.40" y2="307.20" stroke="#000" stroke-width="1.4"/>
<line x1="163.40" y1="210.40" x2="166.80" y2="210.40" stroke="#000" stroke-width="1.2"/>
<text x="162.20" y="213.20" font-size="7.8" font-weight="bold" text-anchor="end">20</text>
<line x1="163.40" y1="234.60" x2="166.80" y2="234.60" stroke="#000" stroke-width="1.2"/>
<text x="162.20" y="237.40" font-size="7.8" font-weight="bold" text-anchor="end">15</text>
<line x1="163.40" y1="258.80" x2="166.80" y2="258.80" stroke="#000" stroke-width="1.2"/>
<text x="162.20" y="261.60" font-size="7.8" font-weight="bold" text-anchor="end">10</text>
<line x1="163.40" y1="283.00" x2="166.80" y2="283.00" stroke="#000" stroke-width="1.2"/>
<text x="162.20" y="285.80" font-size="7.8" font-weight="bold" text-anchor="end">5</text>
<line x1="163.40" y1="307.20" x2="166.80" y2="307.20" stroke="#000" stroke-width="1.2"/>
<text x="162.20" y="310.00" font-size="7.8" font-weight="bold" text-anchor="end">0</text>
<line x1="186.00" y1="307.20" x2="186.00" y2="309.40" stroke="#000" stroke-width="1.1"/>
<line x1="223.90" y1="307.20" x2="223.90" y2="309.40" stroke="#000" stroke-width="1.1"/>
<text x="186.20" y="317.30" font-size="7.6" font-weight="bold" text-anchor="middle" textLength="22.50" lengthAdjust="spacingAndGlyphs">CD25+</text>
<text x="186.20" y="325.90" font-size="7.6" font-weight="bold" text-anchor="middle" textLength="26.30" lengthAdjust="spacingAndGlyphs">FoxP3+</text>
<text x="224.00" y="317.30" font-size="7.6" font-weight="bold" text-anchor="middle" textLength="22.50" lengthAdjust="spacingAndGlyphs">CD39+</text>
<text x="224.00" y="325.90" font-size="7.6" font-weight="bold" text-anchor="middle" textLength="26.40" lengthAdjust="spacingAndGlyphs">FoxP3+</text>
<text x="143.40" y="277.00" font-size="8.3" font-weight="bold" textLength="34.60" lengthAdjust="spacingAndGlyphs" transform="rotate(-90 143.40 277.00)">%GARP+</text>
<text x="192.80" y="225.00" font-size="10.2" font-weight="bold" text-anchor="middle">*</text>
<text x="231.00" y="233.20" font-size="10.2" font-weight="bold" text-anchor="middle">*</text>
</g>
<g id="pF">
<text x="277.20" y="183.00" font-size="15.2" font-weight="bold" textLength="8.00" lengthAdjust="spacingAndGlyphs">F</text>
<text x="346.90" y="200.10" font-size="9.0" font-weight="bold" text-anchor="middle" textLength="27.60" lengthAdjust="spacingAndGlyphs">CD357</text>
<line x1="322.05" y1="243.70" x2="322.05" y2="247.60" stroke="#000" stroke-width="1.1"/>
<line x1="318.95" y1="243.70" x2="325.15" y2="243.70" stroke="#000" stroke-width="1.1"/>
<rect x="316.60" y="248.10" width="10.90" height="59.10" fill="#fff" stroke="#000" stroke-width="1.1"/>
<line x1="335.20" y1="217.30" x2="335.20" y2="222.00" stroke="#000" stroke-width="1.1"/>
<line x1="332.10" y1="217.30" x2="338.30" y2="217.30" stroke="#000" stroke-width="1.1"/>
<rect x="329.90" y="222.50" width="10.60" height="84.70" fill="#000" stroke="#000" stroke-width="1.1"/>
<line x1="359.85" y1="218.70" x2="359.85" y2="223.80" stroke="#000" stroke-width="1.1"/>
<line x1="356.75" y1="218.70" x2="362.95" y2="218.70" stroke="#000" stroke-width="1.1"/>
<rect x="354.40" y="224.30" width="10.90" height="82.90" fill="#fff" stroke="#000" stroke-width="1.1"/>
<line x1="373.15" y1="221.00" x2="373.15" y2="225.80" stroke="#000" stroke-width="1.1"/>
<line x1="370.05" y1="221.00" x2="376.25" y2="221.00" stroke="#000" stroke-width="1.1"/>
<rect x="367.70" y="226.30" width="10.90" height="80.90" fill="#000" stroke="#000" stroke-width="1.1"/>
<line x1="309.60" y1="209.80" x2="309.60" y2="307.90" stroke="#000" stroke-width="1.4"/>
<line x1="308.90" y1="307.20" x2="384.60" y2="307.20" stroke="#000" stroke-width="1.4"/>
<line x1="306.20" y1="210.40" x2="309.60" y2="210.40" stroke="#000" stroke-width="1.2"/>
<text x="304.70" y="213.20" font-size="7.8" font-weight="bold" text-anchor="end">50</text>
<line x1="306.20" y1="229.76" x2="309.60" y2="229.76" stroke="#000" stroke-width="1.2"/>
<text x="304.70" y="232.56" font-size="7.8" font-weight="bold" text-anchor="end">40</text>
<line x1="306.20" y1="249.12" x2="309.60" y2="249.12" stroke="#000" stroke-width="1.2"/>
<text x="304.70" y="251.92" font-size="7.8" font-weight="bold" text-anchor="end">30</text>
<line x1="306.20" y1="268.48" x2="309.60" y2="268.48" stroke="#000" stroke-width="1.2"/>
<text x="304.70" y="271.28" font-size="7.8" font-weight="bold" text-anchor="end">20</text>
<line x1="306.20" y1="287.84" x2="309.60" y2="287.84" stroke="#000" stroke-width="1.2"/>
<text x="304.70" y="290.64" font-size="7.8" font-weight="bold" text-anchor="end">10</text>
<line x1="306.20" y1="307.20" x2="309.60" y2="307.20" stroke="#000" stroke-width="1.2"/>
<text x="304.70" y="310.00" font-size="7.8" font-weight="bold" text-anchor="end">0</text>
<line x1="328.80" y1="307.20" x2="328.80" y2="309.40" stroke="#000" stroke-width="1.1"/>
<line x1="366.60" y1="307.20" x2="366.60" y2="309.40" stroke="#000" stroke-width="1.1"/>
<text x="328.40" y="317.30" font-size="7.6" font-weight="bold" text-anchor="middle" textLength="22.50" lengthAdjust="spacingAndGlyphs">CD25+</text>
<text x="328.40" y="325.90" font-size="7.6" font-weight="bold" text-anchor="middle" textLength="26.60" lengthAdjust="spacingAndGlyphs">FoxP3+</text>
<text x="366.30" y="317.30" font-size="7.6" font-weight="bold" text-anchor="middle" textLength="22.50" lengthAdjust="spacingAndGlyphs">CD39+</text>
<text x="366.30" y="325.90" font-size="7.6" font-weight="bold" text-anchor="middle" textLength="26.20" lengthAdjust="spacingAndGlyphs">FoxP3+</text>
<text x="283.80" y="278.20" font-size="8.3" font-weight="bold" textLength="37.40" lengthAdjust="spacingAndGlyphs" transform="rotate(-90 283.80 278.20)">%CD357+</text>
<text x="334.50" y="214.20" font-size="10.2" font-weight="bold" text-anchor="middle">*</text>
</g>
<g id="pG">
<text x="403.40" y="183.00" font-size="15.2" font-weight="bold" textLength="11.20" lengthAdjust="spacingAndGlyphs">G</text>
<text x="477.10" y="200.10" font-size="9.0" font-weight="bold" text-anchor="middle" textLength="27.20" lengthAdjust="spacingAndGlyphs">TGF-β</text>
<rect x="446.00" y="213.30" width="10.50" height="93.90" fill="#fff" stroke="#000" stroke-width="1.1"/>
<rect x="458.90" y="212.00" width="10.80" height="95.20" fill="#000" stroke="#000" stroke-width="1.1"/>
<line x1="489.25" y1="223.80" x2="489.25" y2="225.40" stroke="#000" stroke-width="1.1"/>
<line x1="486.15" y1="223.80" x2="492.35" y2="223.80" stroke="#000" stroke-width="1.1"/>
<rect x="483.80" y="225.90" width="10.90" height="81.30" fill="#fff" stroke="#000" stroke-width="1.1"/>
<rect x="497.10" y="213.00" width="10.90" height="94.20" fill="#000" stroke="#000" stroke-width="1.1"/>
<line x1="438.30" y1="210.00" x2="438.30" y2="307.90" stroke="#000" stroke-width="1.4"/>
<line x1="437.60" y1="307.20" x2="514.60" y2="307.20" stroke="#000" stroke-width="1.4"/>
<line x1="434.90" y1="210.60" x2="438.30" y2="210.60" stroke="#000" stroke-width="1.2"/>
<text x="434.00" y="213.40" font-size="7.8" font-weight="bold" text-anchor="end">100</text>
<line x1="434.90" y1="234.75" x2="438.30" y2="234.75" stroke="#000" stroke-width="1.2"/>
<text x="434.00" y="237.55" font-size="7.8" font-weight="bold" text-anchor="end">75</text>
<line x1="434.90" y1="258.90" x2="438.30" y2="258.90" stroke="#000" stroke-width="1.2"/>
<text x="434.00" y="261.70" font-size="7.8" font-weight="bold" text-anchor="end">50</text>
<line x1="434.90" y1="283.05" x2="438.30" y2="283.05" stroke="#000" stroke-width="1.2"/>
<text x="434.00" y="285.85" font-size="7.8" font-weight="bold" text-anchor="end">25</text>
<line x1="434.90" y1="307.20" x2="438.30" y2="307.20" stroke="#000" stroke-width="1.2"/>
<text x="434.00" y="310.00" font-size="7.8" font-weight="bold" text-anchor="end">0</text>
<line x1="458.00" y1="307.20" x2="458.00" y2="309.40" stroke="#000" stroke-width="1.1"/>
<line x1="495.80" y1="307.20" x2="495.80" y2="309.40" stroke="#000" stroke-width="1.1"/>
<text x="457.60" y="317.30" font-size="7.6" font-weight="bold" text-anchor="middle" textLength="22.90" lengthAdjust="spacingAndGlyphs">CD25+</text>
<text x="457.60" y="325.90" font-size="7.6" font-weight="bold" text-anchor="middle" textLength="26.30" lengthAdjust="spacingAndGlyphs">FoxP3+</text>
<text x="495.80" y="317.30" font-size="7.6" font-weight="bold" text-anchor="middle" textLength="22.60" lengthAdjust="spacingAndGlyphs">CD39+</text>
<text x="495.80" y="325.90" font-size="7.6" font-weight="bold" text-anchor="middle" textLength="26.00" lengthAdjust="spacingAndGlyphs">FoxP3+</text>
<text x="412.00" y="275.90" font-size="8.3" font-weight="bold" textLength="33.50" lengthAdjust="spacingAndGlyphs" transform="rotate(-90 412.00 275.90)">%TGF-β+</text>
<text x="502.80" y="209.70" font-size="10.2" font-weight="bold" text-anchor="middle">*</text>
</g>
<g id="pH">
<text x="530.00" y="184.00" font-size="15.2" font-weight="bold" textLength="10.40" lengthAdjust="spacingAndGlyphs">H</text>
<text x="600.80" y="200.10" font-size="9.0" font-weight="bold" text-anchor="middle" textLength="27.40" lengthAdjust="spacingAndGlyphs">Helios</text>
<rect x="570.20" y="211.60" width="10.60" height="94.70" fill="#fff" stroke="#000" stroke-width="1.1"/>
<rect x="583.30" y="212.00" width="10.80" height="94.30" fill="#000" stroke="#000" stroke-width="1.1"/>
<rect x="608.00" y="212.00" width="10.70" height="94.30" fill="#fff" stroke="#000" stroke-width="1.1"/>
<rect x="621.10" y="213.00" width="10.90" height="93.30" fill="#000" stroke="#000" stroke-width="1.1"/>
<line x1="563.00" y1="210.00" x2="563.00" y2="307.00" stroke="#000" stroke-width="1.4"/>
<line x1="562.30" y1="306.30" x2="638.60" y2="306.30" stroke="#000" stroke-width="1.4"/>
<line x1="559.60" y1="210.60" x2="563.00" y2="210.60" stroke="#000" stroke-width="1.2"/>
<text x="558.40" y="213.40" font-size="7.8" font-weight="bold" text-anchor="end">100</text>
<line x1="559.60" y1="234.53" x2="563.00" y2="234.53" stroke="#000" stroke-width="1.2"/>
<text x="558.40" y="237.33" font-size="7.8" font-weight="bold" text-anchor="end">75</text>
<line x1="559.60" y1="258.45" x2="563.00" y2="258.45" stroke="#000" stroke-width="1.2"/>
<text x="558.40" y="261.25" font-size="7.8" font-weight="bold" text-anchor="end">50</text>
<line x1="559.60" y1="282.38" x2="563.00" y2="282.38" stroke="#000" stroke-width="1.2"/>
<text x="558.40" y="285.18" font-size="7.8" font-weight="bold" text-anchor="end">25</text>
<line x1="559.60" y1="306.30" x2="563.00" y2="306.30" stroke="#000" stroke-width="1.2"/>
<text x="558.40" y="309.10" font-size="7.8" font-weight="bold" text-anchor="end">0</text>
<line x1="582.00" y1="306.30" x2="582.00" y2="308.50" stroke="#000" stroke-width="1.1"/>
<line x1="619.60" y1="306.30" x2="619.60" y2="308.50" stroke="#000" stroke-width="1.1"/>
<text x="582.00" y="316.20" font-size="7.6" font-weight="bold" text-anchor="middle" textLength="22.50" lengthAdjust="spacingAndGlyphs">CD25+</text>
<text x="582.00" y="324.90" font-size="7.6" font-weight="bold" text-anchor="middle" textLength="26.20" lengthAdjust="spacingAndGlyphs">FoxP3+</text>
<text x="619.80" y="316.20" font-size="7.6" font-weight="bold" text-anchor="middle" textLength="22.50" lengthAdjust="spacingAndGlyphs">CD39+</text>
<text x="619.80" y="324.90" font-size="7.6" font-weight="bold" text-anchor="middle" textLength="26.10" lengthAdjust="spacingAndGlyphs">FoxP3+</text>
<text x="537.50" y="275.90" font-size="8.3" font-weight="bold" textLength="35.10" lengthAdjust="spacingAndGlyphs" transform="rotate(-90 537.50 275.90)">%Helios+</text>
</g>
<g id="pI">
<text x="2.10" y="372.80" font-size="15.2" font-weight="bold">I</text>
<path d="M47.4 349.8 L53.1 353.9 L47.4 358 L41.7 353.9Z" fill="#fff" stroke="#222" stroke-width="0.8"/>
<rect x="44.00" y="362.40" width="8.50" height="7.40" fill="#fff" stroke="#222" stroke-width="0.8"/>
<rect x="43.60" y="374.40" width="9.20" height="8.50" fill="#000" stroke="#000" stroke-width="0.3"/>
<text x="59.30" y="357.40" font-size="8.8" textLength="43.60" lengthAdjust="spacingAndGlyphs" fill="#222">CM-hAMSC</text>
<text x="59.30" y="369.20" font-size="8.8" textLength="16.40" lengthAdjust="spacingAndGlyphs" fill="#222">MLR</text>
<text x="59.30" y="380.50" font-size="8.8" textLength="70.60" lengthAdjust="spacingAndGlyphs" fill="#222">MLR + CM-hAMSC</text>
<text x="113.30" y="398.90" font-size="12.6" font-weight="bold" text-anchor="middle" textLength="34.40" lengthAdjust="spacingAndGlyphs">TGF-β</text>
<line x1="33.50" y1="380.00" x2="33.50" y2="499.70" stroke="#000" stroke-width="1.05"/>
<line x1="33.00" y1="499.20" x2="201.40" y2="499.20" stroke="#000" stroke-width="1.1"/>
<line x1="31.30" y1="499.20" x2="33.70" y2="499.20" stroke="#000" stroke-width="1.0"/>
<text x="30.40" y="501.50" font-size="6.4" font-weight="bold" text-anchor="end">0</text>
<line x1="31.30" y1="459.55" x2="33.70" y2="459.55" stroke="#000" stroke-width="1.0"/>
<text x="30.40" y="461.85" font-size="6.4" font-weight="bold" text-anchor="end">100</text>
<line x1="31.30" y1="419.90" x2="33.70" y2="419.90" stroke="#000" stroke-width="1.0"/>
<text x="30.40" y="422.20" font-size="6.4" font-weight="bold" text-anchor="end">200</text>
<line x1="31.30" y1="380.25" x2="33.70" y2="380.25" stroke="#000" stroke-width="1.0"/>
<text x="30.40" y="382.55" font-size="6.4" font-weight="bold" text-anchor="end">300</text>
<text x="33.50" y="507.90" font-size="6.4" font-weight="bold" text-anchor="middle">0</text>
<line x1="61.00" y1="499.20" x2="61.00" y2="501.40" stroke="#000" stroke-width="1.0"/>
<text x="61.00" y="507.90" font-size="6.4" font-weight="bold" text-anchor="middle">1</text>
<line x1="88.50" y1="499.20" x2="88.50" y2="501.40" stroke="#000" stroke-width="1.0"/>
<text x="88.50" y="507.90" font-size="6.4" font-weight="bold" text-anchor="middle">2</text>
<line x1="116.00" y1="499.20" x2="116.00" y2="501.40" stroke="#000" stroke-width="1.0"/>
<text x="116.00" y="507.90" font-size="6.4" font-weight="bold" text-anchor="middle">3</text>
<line x1="143.50" y1="499.20" x2="143.50" y2="501.40" stroke="#000" stroke-width="1.0"/>
<text x="143.50" y="507.90" font-size="6.4" font-weight="bold" text-anchor="middle">4</text>
<line x1="171.00" y1="499.20" x2="171.00" y2="501.40" stroke="#000" stroke-width="1.0"/>
<text x="171.00" y="507.90" font-size="6.4" font-weight="bold" text-anchor="middle">5</text>
<line x1="198.50" y1="499.20" x2="198.50" y2="501.40" stroke="#000" stroke-width="1.0"/>
<text x="198.50" y="507.90" font-size="6.4" font-weight="bold" text-anchor="middle">6</text>
<text x="119.90" y="518.40" font-size="8.6" font-weight="bold" text-anchor="middle" textLength="19.80" lengthAdjust="spacingAndGlyphs">Days</text>
<text x="11.70" y="453.50" font-size="13.8" font-weight="bold" textLength="41.00" lengthAdjust="spacingAndGlyphs" transform="rotate(-90 11.70 453.50)" stroke="#000" stroke-width="0.25">pg/mL</text>
<polyline points="61.0,472.0 88.5,460.9 116.0,454.6 143.5,432.7 171.0,415.0 198.5,416.9" fill="none" stroke="#000" stroke-width="0.9" stroke-dasharray="2.6 1.1"/>
<polyline points="61.0,485.4 88.5,480.3 116.0,480.3 143.5,482.8 171.0,484.0 198.5,456.2" fill="none" stroke="#000" stroke-width="0.9" stroke-dasharray="2.6 1.1"/>
<line x1="61.00" y1="457.60" x2="61.00" y2="486.40" stroke="#000" stroke-width="0.9"/>
<line x1="57.90" y1="457.60" x2="64.10" y2="457.60" stroke="#000" stroke-width="0.9"/>
<line x1="57.90" y1="486.40" x2="64.10" y2="486.40" stroke="#000" stroke-width="0.9"/>
<line x1="88.50" y1="448.50" x2="88.50" y2="473.30" stroke="#000" stroke-width="0.9"/>
<line x1="85.40" y1="448.50" x2="91.60" y2="448.50" stroke="#000" stroke-width="0.9"/>
<line x1="85.40" y1="473.30" x2="91.60" y2="473.30" stroke="#000" stroke-width="0.9"/>
<line x1="116.00" y1="438.40" x2="116.00" y2="470.80" stroke="#000" stroke-width="0.9"/>
<line x1="112.90" y1="438.40" x2="119.10" y2="438.40" stroke="#000" stroke-width="0.9"/>
<line x1="112.90" y1="470.80" x2="119.10" y2="470.80" stroke="#000" stroke-width="0.9"/>
<line x1="143.50" y1="400.70" x2="143.50" y2="464.70" stroke="#000" stroke-width="0.9"/>
<line x1="140.40" y1="400.70" x2="146.60" y2="400.70" stroke="#000" stroke-width="0.9"/>
<line x1="140.40" y1="464.70" x2="146.60" y2="464.70" stroke="#000" stroke-width="0.9"/>
<line x1="171.00" y1="396.80" x2="171.00" y2="433.20" stroke="#000" stroke-width="0.9"/>
<line x1="167.90" y1="396.80" x2="174.10" y2="396.80" stroke="#000" stroke-width="0.9"/>
<line x1="167.90" y1="433.20" x2="174.10" y2="433.20" stroke="#000" stroke-width="0.9"/>
<line x1="198.50" y1="402.00" x2="198.50" y2="431.80" stroke="#000" stroke-width="0.9"/>
<line x1="195.40" y1="402.00" x2="201.60" y2="402.00" stroke="#000" stroke-width="0.9"/>
<line x1="195.40" y1="431.80" x2="201.60" y2="431.80" stroke="#000" stroke-width="0.9"/>
<line x1="61.00" y1="476.70" x2="61.00" y2="494.10" stroke="#000" stroke-width="0.9"/>
<line x1="57.90" y1="476.70" x2="64.10" y2="476.70" stroke="#000" stroke-width="0.9"/>
<line x1="57.90" y1="494.10" x2="64.10" y2="494.10" stroke="#000" stroke-width="0.9"/>
<line x1="88.50" y1="470.00" x2="88.50" y2="490.60" stroke="#000" stroke-width="0.9"/>
<line x1="85.40" y1="470.00" x2="91.60" y2="470.00" stroke="#000" stroke-width="0.9"/>
<line x1="85.40" y1="490.60" x2="91.60" y2="490.60" stroke="#000" stroke-width="0.9"/>
<line x1="116.00" y1="469.50" x2="116.00" y2="491.10" stroke="#000" stroke-width="0.9"/>
<line x1="112.90" y1="469.50" x2="119.10" y2="469.50" stroke="#000" stroke-width="0.9"/>
<line x1="112.90" y1="491.10" x2="119.10" y2="491.10" stroke="#000" stroke-width="0.9"/>
<line x1="143.50" y1="473.50" x2="143.50" y2="492.10" stroke="#000" stroke-width="0.9"/>
<line x1="140.40" y1="473.50" x2="146.60" y2="473.50" stroke="#000" stroke-width="0.9"/>
<line x1="140.40" y1="492.10" x2="146.60" y2="492.10" stroke="#000" stroke-width="0.9"/>
<line x1="171.00" y1="475.10" x2="171.00" y2="492.90" stroke="#000" stroke-width="0.9"/>
<line x1="167.90" y1="475.10" x2="174.10" y2="475.10" stroke="#000" stroke-width="0.9"/>
<line x1="167.90" y1="492.90" x2="174.10" y2="492.90" stroke="#000" stroke-width="0.9"/>
<line x1="198.50" y1="441.80" x2="198.50" y2="470.60" stroke="#000" stroke-width="0.9"/>
<line x1="195.40" y1="441.80" x2="201.60" y2="441.80" stroke="#000" stroke-width="0.9"/>
<line x1="195.40" y1="470.60" x2="201.60" y2="470.60" stroke="#000" stroke-width="0.9"/>
<line x1="47.40" y1="438.40" x2="47.40" y2="485.50" stroke="#000" stroke-width="0.9"/>
<line x1="44.40" y1="438.40" x2="50.40" y2="438.40" stroke="#000" stroke-width="0.9"/>
<line x1="44.40" y1="485.50" x2="50.40" y2="485.50" stroke="#000" stroke-width="0.9"/>
<path d="M47.4 459.7 L49.7 462.4 L47.4 465.1 L45.1 462.4Z" fill="#fff" stroke="#000" stroke-width="0.8"/>
<rect x="58.40" y="482.80" width="5.20" height="5.20" fill="#fff" stroke="#000" stroke-width="0.9"/>
<rect x="85.90" y="477.70" width="5.20" height="5.20" fill="#fff" stroke="#000" stroke-width="0.9"/>
<rect x="113.40" y="477.70" width="5.20" height="5.20" fill="#fff" stroke="#000" stroke-width="0.9"/>
<rect x="140.90" y="480.20" width="5.20" height="5.20" fill="#fff" stroke="#000" stroke-width="0.9"/>
<rect x="168.40" y="481.40" width="5.20" height="5.20" fill="#fff" stroke="#000" stroke-width="0.9"/>
<rect x="195.90" y="453.60" width="5.20" height="5.20" fill="#fff" stroke="#000" stroke-width="0.9"/>
<rect x="58.30" y="469.30" width="5.40" height="5.40" fill="#000" stroke="#000" stroke-width="0.3"/>
<rect x="85.80" y="458.20" width="5.40" height="5.40" fill="#000" stroke="#000" stroke-width="0.3"/>
<rect x="113.30" y="451.90" width="5.40" height="5.40" fill="#000" stroke="#000" stroke-width="0.3"/>
<rect x="140.80" y="430.00" width="5.40" height="5.40" fill="#000" stroke="#000" stroke-width="0.3"/>
<rect x="168.30" y="412.30" width="5.40" height="5.40" fill="#000" stroke="#000" stroke-width="0.3"/>
<rect x="195.80" y="414.20" width="5.40" height="5.40" fill="#000" stroke="#000" stroke-width="0.3"/>
<text x="171.10" y="386.94" font-size="13.6" text-anchor="middle" font-family="'DejaVu Sans', 'Liberation Sans', sans-serif" stroke="#000" stroke-width="0.3">*</text>
<text x="197.40" y="395.64" font-size="13.6" text-anchor="middle" font-family="'DejaVu Sans', 'Liberation Sans', sans-serif" stroke="#000" stroke-width="0.3">*</text>
</g>
</svg>
</body></html>
